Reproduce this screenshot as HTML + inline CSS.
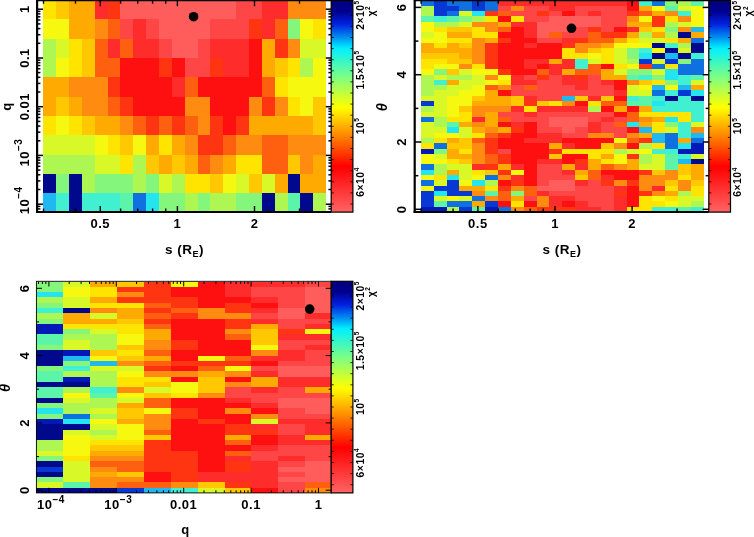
<!DOCTYPE html>
<html><head><meta charset="utf-8"><title>chi2 maps</title>
<style>html,body{margin:0;padding:0;background:#fff}svg{display:block}
text{font-family:"Liberation Sans","DejaVu Sans",sans-serif;font-weight:bold;fill:#000;letter-spacing:0.5px}</style></head>
<body><svg width="754" height="537" viewBox="0 0 754 537">
<defs><linearGradient id="cb" x1="0" y1="0" x2="0" y2="1"><stop offset="0.000" stop-color="#000080"/><stop offset="0.050" stop-color="#00008C"/><stop offset="0.110" stop-color="#0020E0"/><stop offset="0.170" stop-color="#0088F0"/><stop offset="0.225" stop-color="#00F0FF"/><stop offset="0.365" stop-color="#80FF80"/><stop offset="0.505" stop-color="#FFFF00"/><stop offset="0.645" stop-color="#FF8000"/><stop offset="0.785" stop-color="#FF0000"/><stop offset="1.000" stop-color="#FF6464"/></linearGradient></defs>
<rect width="754" height="537" fill="#fff"/>
<g shape-rendering="crispEdges"><rect x="43.20" y="0.10" width="12.86" height="19.30" fill="#FFE400"/>
<rect x="56.06" y="0.10" width="12.86" height="19.30" fill="#FFC800"/>
<rect x="68.92" y="0.10" width="25.72" height="19.30" fill="#FFAA00"/>
<rect x="94.64" y="0.10" width="12.86" height="19.30" fill="#FF2C2C"/>
<rect x="107.50" y="0.10" width="12.86" height="19.30" fill="#FF3410"/>
<rect x="120.36" y="0.10" width="115.74" height="19.30" fill="#FF5C5C"/>
<rect x="236.10" y="0.10" width="25.72" height="19.30" fill="#FF4646"/>
<rect x="261.82" y="0.10" width="25.72" height="19.30" fill="#FF2C2C"/>
<rect x="287.54" y="0.10" width="38.58" height="19.30" fill="#FF8C10"/>
<rect x="43.20" y="19.40" width="25.72" height="19.30" fill="#F6F810"/>
<rect x="68.92" y="19.40" width="25.72" height="19.30" fill="#FFAA00"/>
<rect x="94.64" y="19.40" width="12.86" height="19.30" fill="#FF8C10"/>
<rect x="107.50" y="19.40" width="12.86" height="19.30" fill="#FF6010"/>
<rect x="120.36" y="19.40" width="12.86" height="19.30" fill="#FF4646"/>
<rect x="133.22" y="19.40" width="12.86" height="19.30" fill="#FF2C2C"/>
<rect x="146.08" y="19.40" width="12.86" height="19.30" fill="#FF4646"/>
<rect x="158.94" y="19.40" width="51.44" height="19.30" fill="#FF5C5C"/>
<rect x="210.38" y="19.40" width="38.58" height="19.30" fill="#FF4646"/>
<rect x="248.96" y="19.40" width="12.86" height="19.30" fill="#FF3410"/>
<rect x="261.82" y="19.40" width="12.86" height="19.30" fill="#FF2C2C"/>
<rect x="274.68" y="19.40" width="12.86" height="19.30" fill="#FF6010"/>
<rect x="287.54" y="19.40" width="12.86" height="19.30" fill="#84F67C"/>
<rect x="300.40" y="19.40" width="12.86" height="19.30" fill="#F6F810"/>
<rect x="313.26" y="19.40" width="12.86" height="19.30" fill="#FFE400"/>
<rect x="43.20" y="38.70" width="12.86" height="19.30" fill="#AEF652"/>
<rect x="56.06" y="38.70" width="12.86" height="19.30" fill="#D8F828"/>
<rect x="68.92" y="38.70" width="12.86" height="19.30" fill="#FFE400"/>
<rect x="81.78" y="38.70" width="12.86" height="19.30" fill="#FFC800"/>
<rect x="94.64" y="38.70" width="12.86" height="19.30" fill="#FF6010"/>
<rect x="107.50" y="38.70" width="12.86" height="19.30" fill="#FF2C2C"/>
<rect x="120.36" y="38.70" width="12.86" height="19.30" fill="#FF6010"/>
<rect x="133.22" y="38.70" width="25.72" height="19.30" fill="#FF2C2C"/>
<rect x="158.94" y="38.70" width="12.86" height="19.30" fill="#FF4646"/>
<rect x="171.80" y="38.70" width="25.72" height="19.30" fill="#FF5C5C"/>
<rect x="197.52" y="38.70" width="12.86" height="19.30" fill="#FF4646"/>
<rect x="210.38" y="38.70" width="38.58" height="19.30" fill="#FF2C2C"/>
<rect x="248.96" y="38.70" width="12.86" height="19.30" fill="#FF1010"/>
<rect x="261.82" y="38.70" width="12.86" height="19.30" fill="#FFAA00"/>
<rect x="274.68" y="38.70" width="12.86" height="19.30" fill="#FF3410"/>
<rect x="287.54" y="38.70" width="12.86" height="19.30" fill="#FF8C10"/>
<rect x="300.40" y="38.70" width="25.72" height="19.30" fill="#D8F828"/>
<rect x="43.20" y="58.00" width="12.86" height="19.30" fill="#AEF652"/>
<rect x="56.06" y="58.00" width="12.86" height="19.30" fill="#F6F810"/>
<rect x="68.92" y="58.00" width="12.86" height="19.30" fill="#FFE400"/>
<rect x="81.78" y="58.00" width="12.86" height="19.30" fill="#FFC800"/>
<rect x="94.64" y="58.00" width="25.72" height="19.30" fill="#FF6010"/>
<rect x="120.36" y="58.00" width="38.58" height="19.30" fill="#FF1010"/>
<rect x="158.94" y="58.00" width="12.86" height="19.30" fill="#FF3410"/>
<rect x="171.80" y="58.00" width="12.86" height="19.30" fill="#FF1010"/>
<rect x="184.66" y="58.00" width="25.72" height="19.30" fill="#FF4646"/>
<rect x="210.38" y="58.00" width="12.86" height="19.30" fill="#FF3410"/>
<rect x="223.24" y="58.00" width="25.72" height="19.30" fill="#FF2C2C"/>
<rect x="248.96" y="58.00" width="12.86" height="19.30" fill="#FF1010"/>
<rect x="261.82" y="58.00" width="12.86" height="19.30" fill="#FFAA00"/>
<rect x="274.68" y="58.00" width="12.86" height="19.30" fill="#FFC800"/>
<rect x="287.54" y="58.00" width="12.86" height="19.30" fill="#FFE400"/>
<rect x="300.40" y="58.00" width="12.86" height="19.30" fill="#AEF652"/>
<rect x="313.26" y="58.00" width="12.86" height="19.30" fill="#F6F810"/>
<rect x="43.20" y="77.30" width="25.72" height="19.30" fill="#FFAA00"/>
<rect x="68.92" y="77.30" width="38.58" height="19.30" fill="#FF8C10"/>
<rect x="107.50" y="77.30" width="12.86" height="19.30" fill="#FF3410"/>
<rect x="120.36" y="77.30" width="51.44" height="19.30" fill="#FF1010"/>
<rect x="171.80" y="77.30" width="12.86" height="19.30" fill="#FF2C2C"/>
<rect x="184.66" y="77.30" width="12.86" height="19.30" fill="#FF6010"/>
<rect x="197.52" y="77.30" width="64.30" height="19.30" fill="#FF1010"/>
<rect x="261.82" y="77.30" width="12.86" height="19.30" fill="#FF6010"/>
<rect x="274.68" y="77.30" width="12.86" height="19.30" fill="#FFE400"/>
<rect x="287.54" y="77.30" width="38.58" height="19.30" fill="#F6F810"/>
<rect x="43.20" y="96.60" width="12.86" height="19.30" fill="#FFAA00"/>
<rect x="56.06" y="96.60" width="12.86" height="19.30" fill="#FFC800"/>
<rect x="68.92" y="96.60" width="12.86" height="19.30" fill="#FFAA00"/>
<rect x="81.78" y="96.60" width="25.72" height="19.30" fill="#FF8C10"/>
<rect x="107.50" y="96.60" width="12.86" height="19.30" fill="#FF6010"/>
<rect x="120.36" y="96.60" width="12.86" height="19.30" fill="#FF3410"/>
<rect x="133.22" y="96.60" width="51.44" height="19.30" fill="#FF1010"/>
<rect x="184.66" y="96.60" width="25.72" height="19.30" fill="#FF8C10"/>
<rect x="210.38" y="96.60" width="38.58" height="19.30" fill="#FF1010"/>
<rect x="248.96" y="96.60" width="12.86" height="19.30" fill="#FF8C10"/>
<rect x="261.82" y="96.60" width="12.86" height="19.30" fill="#FF3410"/>
<rect x="274.68" y="96.60" width="12.86" height="19.30" fill="#FF8C10"/>
<rect x="287.54" y="96.60" width="12.86" height="19.30" fill="#FFE400"/>
<rect x="300.40" y="96.60" width="12.86" height="19.30" fill="#F6F810"/>
<rect x="313.26" y="96.60" width="12.86" height="19.30" fill="#FFC800"/>
<rect x="43.20" y="115.90" width="12.86" height="19.30" fill="#FFE400"/>
<rect x="56.06" y="115.90" width="12.86" height="19.30" fill="#F6F810"/>
<rect x="68.92" y="115.90" width="12.86" height="19.30" fill="#FFE400"/>
<rect x="81.78" y="115.90" width="12.86" height="19.30" fill="#FFC800"/>
<rect x="94.64" y="115.90" width="25.72" height="19.30" fill="#FFAA00"/>
<rect x="120.36" y="115.90" width="12.86" height="19.30" fill="#FF8C10"/>
<rect x="133.22" y="115.90" width="12.86" height="19.30" fill="#FF6010"/>
<rect x="146.08" y="115.90" width="12.86" height="19.30" fill="#FF3410"/>
<rect x="158.94" y="115.90" width="12.86" height="19.30" fill="#FF6010"/>
<rect x="171.80" y="115.90" width="12.86" height="19.30" fill="#FF3410"/>
<rect x="184.66" y="115.90" width="12.86" height="19.30" fill="#FF6010"/>
<rect x="197.52" y="115.90" width="12.86" height="19.30" fill="#FF8C10"/>
<rect x="210.38" y="115.90" width="12.86" height="19.30" fill="#FF3410"/>
<rect x="223.24" y="115.90" width="12.86" height="19.30" fill="#FF1010"/>
<rect x="236.10" y="115.90" width="12.86" height="19.30" fill="#FF3410"/>
<rect x="248.96" y="115.90" width="64.30" height="19.30" fill="#FFAA00"/>
<rect x="313.26" y="115.90" width="12.86" height="19.30" fill="#FFC800"/>
<rect x="43.20" y="135.20" width="51.44" height="19.30" fill="#D8F828"/>
<rect x="94.64" y="135.20" width="12.86" height="19.30" fill="#F6F810"/>
<rect x="107.50" y="135.20" width="12.86" height="19.30" fill="#FFE400"/>
<rect x="120.36" y="135.20" width="12.86" height="19.30" fill="#FFC800"/>
<rect x="133.22" y="135.20" width="12.86" height="19.30" fill="#F6F810"/>
<rect x="146.08" y="135.20" width="12.86" height="19.30" fill="#FFAA00"/>
<rect x="158.94" y="135.20" width="12.86" height="19.30" fill="#FFE400"/>
<rect x="171.80" y="135.20" width="12.86" height="19.30" fill="#FFAA00"/>
<rect x="184.66" y="135.20" width="12.86" height="19.30" fill="#FF8C10"/>
<rect x="197.52" y="135.20" width="25.72" height="19.30" fill="#FF3410"/>
<rect x="223.24" y="135.20" width="12.86" height="19.30" fill="#FF6010"/>
<rect x="236.10" y="135.20" width="25.72" height="19.30" fill="#FF8C10"/>
<rect x="261.82" y="135.20" width="25.72" height="19.30" fill="#FF6010"/>
<rect x="287.54" y="135.20" width="38.58" height="19.30" fill="#FF8C10"/>
<rect x="43.20" y="154.50" width="51.44" height="19.30" fill="#AEF652"/>
<rect x="94.64" y="154.50" width="25.72" height="19.30" fill="#D8F828"/>
<rect x="120.36" y="154.50" width="12.86" height="19.30" fill="#FFE400"/>
<rect x="133.22" y="154.50" width="12.86" height="19.30" fill="#AEF652"/>
<rect x="146.08" y="154.50" width="12.86" height="19.30" fill="#FFC800"/>
<rect x="158.94" y="154.50" width="12.86" height="19.30" fill="#FFAA00"/>
<rect x="171.80" y="154.50" width="12.86" height="19.30" fill="#FFC800"/>
<rect x="184.66" y="154.50" width="12.86" height="19.30" fill="#FFAA00"/>
<rect x="197.52" y="154.50" width="12.86" height="19.30" fill="#FF6010"/>
<rect x="210.38" y="154.50" width="12.86" height="19.30" fill="#FF8C10"/>
<rect x="223.24" y="154.50" width="12.86" height="19.30" fill="#FFAA00"/>
<rect x="236.10" y="154.50" width="25.72" height="19.30" fill="#FFE400"/>
<rect x="261.82" y="154.50" width="25.72" height="19.30" fill="#FF6010"/>
<rect x="287.54" y="154.50" width="12.86" height="19.30" fill="#FFC800"/>
<rect x="300.40" y="154.50" width="12.86" height="19.30" fill="#FF8C10"/>
<rect x="313.26" y="154.50" width="12.86" height="19.30" fill="#FFAA00"/>
<rect x="43.20" y="173.80" width="12.86" height="19.30" fill="#00088C"/>
<rect x="56.06" y="173.80" width="12.86" height="19.30" fill="#84F67C"/>
<rect x="68.92" y="173.80" width="12.86" height="19.30" fill="#00088C"/>
<rect x="81.78" y="173.80" width="12.86" height="19.30" fill="#AEF652"/>
<rect x="94.64" y="173.80" width="38.58" height="19.30" fill="#84F67C"/>
<rect x="133.22" y="173.80" width="12.86" height="19.30" fill="#AEF652"/>
<rect x="146.08" y="173.80" width="12.86" height="19.30" fill="#84F67C"/>
<rect x="158.94" y="173.80" width="12.86" height="19.30" fill="#D8F828"/>
<rect x="171.80" y="173.80" width="12.86" height="19.30" fill="#AEF652"/>
<rect x="184.66" y="173.80" width="25.72" height="19.30" fill="#FFE400"/>
<rect x="210.38" y="173.80" width="12.86" height="19.30" fill="#FFC800"/>
<rect x="223.24" y="173.80" width="12.86" height="19.30" fill="#F6F810"/>
<rect x="236.10" y="173.80" width="12.86" height="19.30" fill="#D8F828"/>
<rect x="248.96" y="173.80" width="12.86" height="19.30" fill="#FFC800"/>
<rect x="261.82" y="173.80" width="12.86" height="19.30" fill="#D8F828"/>
<rect x="274.68" y="173.80" width="12.86" height="19.30" fill="#FFAA00"/>
<rect x="287.54" y="173.80" width="12.86" height="19.30" fill="#00088C"/>
<rect x="300.40" y="173.80" width="25.72" height="19.30" fill="#FFAA00"/>
<rect x="43.20" y="193.10" width="12.86" height="19.30" fill="#20B8F0"/>
<rect x="56.06" y="193.10" width="12.86" height="19.30" fill="#40F0D0"/>
<rect x="68.92" y="193.10" width="12.86" height="19.30" fill="#00088C"/>
<rect x="81.78" y="193.10" width="38.58" height="19.30" fill="#40F0D0"/>
<rect x="120.36" y="193.10" width="12.86" height="19.30" fill="#5CF4A8"/>
<rect x="133.22" y="193.10" width="12.86" height="19.30" fill="#1070E0"/>
<rect x="146.08" y="193.10" width="12.86" height="19.30" fill="#24E4F0"/>
<rect x="158.94" y="193.10" width="25.72" height="19.30" fill="#84F67C"/>
<rect x="184.66" y="193.10" width="12.86" height="19.30" fill="#AEF652"/>
<rect x="197.52" y="193.10" width="12.86" height="19.30" fill="#84F67C"/>
<rect x="210.38" y="193.10" width="25.72" height="19.30" fill="#AEF652"/>
<rect x="236.10" y="193.10" width="25.72" height="19.30" fill="#84F67C"/>
<rect x="261.82" y="193.10" width="12.86" height="19.30" fill="#00088C"/>
<rect x="274.68" y="193.10" width="12.86" height="19.30" fill="#AEF652"/>
<rect x="287.54" y="193.10" width="12.86" height="19.30" fill="#5CF4A8"/>
<rect x="300.40" y="193.10" width="12.86" height="19.30" fill="#00088C"/>
<rect x="313.26" y="193.10" width="12.86" height="19.30" fill="#AEF652"/></g>
<line x1="37.1" y1="0.0" x2="37.1" y2="212.9" stroke="#000" stroke-width="2.2"/>
<line x1="36.3" y1="0.6" x2="331.2" y2="0.6" stroke="#000" stroke-width="1.3"/>
<line x1="36.0" y1="211.9" x2="331.2" y2="211.9" stroke="#000" stroke-width="2.0"/>
<line x1="43.5" y1="212.0" x2="43.5" y2="208.5" stroke="#000" stroke-width="1.4"/>
<line x1="43.5" y1="0.5" x2="43.5" y2="3.7" stroke="#000" stroke-width="1.4"/>
<line x1="75.5" y1="212.0" x2="75.5" y2="208.5" stroke="#000" stroke-width="1.4"/>
<line x1="75.5" y1="0.5" x2="75.5" y2="3.7" stroke="#000" stroke-width="1.4"/>
<line x1="100.3" y1="212.0" x2="100.3" y2="206.0" stroke="#000" stroke-width="1.4"/>
<line x1="100.3" y1="0.5" x2="100.3" y2="6.2" stroke="#000" stroke-width="1.4"/>
<line x1="120.6" y1="212.0" x2="120.6" y2="208.5" stroke="#000" stroke-width="1.4"/>
<line x1="120.6" y1="0.5" x2="120.6" y2="3.7" stroke="#000" stroke-width="1.4"/>
<line x1="137.7" y1="212.0" x2="137.7" y2="208.5" stroke="#000" stroke-width="1.4"/>
<line x1="137.7" y1="0.5" x2="137.7" y2="3.7" stroke="#000" stroke-width="1.4"/>
<line x1="152.6" y1="212.0" x2="152.6" y2="208.5" stroke="#000" stroke-width="1.4"/>
<line x1="152.6" y1="0.5" x2="152.6" y2="3.7" stroke="#000" stroke-width="1.4"/>
<line x1="165.7" y1="212.0" x2="165.7" y2="208.5" stroke="#000" stroke-width="1.4"/>
<line x1="165.7" y1="0.5" x2="165.7" y2="3.7" stroke="#000" stroke-width="1.4"/>
<line x1="177.4" y1="212.0" x2="177.4" y2="206.0" stroke="#000" stroke-width="1.4"/>
<line x1="177.4" y1="0.5" x2="177.4" y2="6.2" stroke="#000" stroke-width="1.4"/>
<line x1="254.5" y1="212.0" x2="254.5" y2="206.0" stroke="#000" stroke-width="1.4"/>
<line x1="254.5" y1="0.5" x2="254.5" y2="6.2" stroke="#000" stroke-width="1.4"/>
<line x1="299.5" y1="212.0" x2="299.5" y2="208.5" stroke="#000" stroke-width="1.4"/>
<line x1="299.5" y1="0.5" x2="299.5" y2="3.7" stroke="#000" stroke-width="1.4"/>
<text x="100.3" y="228.0" text-anchor="middle" font-size="13.0" >0.5</text>
<text x="177.4" y="228.0" text-anchor="middle" font-size="13.0" >1</text>
<text x="254.5" y="228.0" text-anchor="middle" font-size="13.0" >2</text>
<text x="184.5" y="253.5" text-anchor="middle" font-size="13.5">s (R<tspan dy="3.5" font-size="9">E</tspan><tspan dy="-3.5">)</tspan></text>
<line x1="37.1" y1="9.2" x2="43.0" y2="9.2" stroke="#000" stroke-width="1.5"/>
<line x1="331.2" y1="9.2" x2="325.8" y2="9.2" stroke="#000" stroke-width="1.5"/>
<line x1="37.1" y1="58.0" x2="43.0" y2="58.0" stroke="#000" stroke-width="1.5"/>
<line x1="331.2" y1="58.0" x2="325.8" y2="58.0" stroke="#000" stroke-width="1.5"/>
<line x1="37.1" y1="43.3" x2="40.4" y2="43.3" stroke="#000" stroke-width="1.5"/>
<line x1="331.2" y1="43.3" x2="328.4" y2="43.3" stroke="#000" stroke-width="1.5"/>
<line x1="37.1" y1="34.7" x2="40.4" y2="34.7" stroke="#000" stroke-width="1.5"/>
<line x1="331.2" y1="34.7" x2="328.4" y2="34.7" stroke="#000" stroke-width="1.5"/>
<line x1="37.1" y1="28.6" x2="40.4" y2="28.6" stroke="#000" stroke-width="1.5"/>
<line x1="331.2" y1="28.6" x2="328.4" y2="28.6" stroke="#000" stroke-width="1.5"/>
<line x1="37.1" y1="23.9" x2="40.4" y2="23.9" stroke="#000" stroke-width="1.5"/>
<line x1="331.2" y1="23.9" x2="328.4" y2="23.9" stroke="#000" stroke-width="1.5"/>
<line x1="37.1" y1="20.0" x2="40.4" y2="20.0" stroke="#000" stroke-width="1.5"/>
<line x1="331.2" y1="20.0" x2="328.4" y2="20.0" stroke="#000" stroke-width="1.5"/>
<line x1="37.1" y1="16.8" x2="40.4" y2="16.8" stroke="#000" stroke-width="1.5"/>
<line x1="331.2" y1="16.8" x2="328.4" y2="16.8" stroke="#000" stroke-width="1.5"/>
<line x1="37.1" y1="13.9" x2="40.4" y2="13.9" stroke="#000" stroke-width="1.5"/>
<line x1="331.2" y1="13.9" x2="328.4" y2="13.9" stroke="#000" stroke-width="1.5"/>
<line x1="37.1" y1="11.4" x2="40.4" y2="11.4" stroke="#000" stroke-width="1.5"/>
<line x1="331.2" y1="11.4" x2="328.4" y2="11.4" stroke="#000" stroke-width="1.5"/>
<line x1="37.1" y1="106.7" x2="43.0" y2="106.7" stroke="#000" stroke-width="1.5"/>
<line x1="331.2" y1="106.7" x2="325.8" y2="106.7" stroke="#000" stroke-width="1.5"/>
<line x1="37.1" y1="92.0" x2="40.4" y2="92.0" stroke="#000" stroke-width="1.5"/>
<line x1="331.2" y1="92.0" x2="328.4" y2="92.0" stroke="#000" stroke-width="1.5"/>
<line x1="37.1" y1="83.4" x2="40.4" y2="83.4" stroke="#000" stroke-width="1.5"/>
<line x1="331.2" y1="83.4" x2="328.4" y2="83.4" stroke="#000" stroke-width="1.5"/>
<line x1="37.1" y1="77.3" x2="40.4" y2="77.3" stroke="#000" stroke-width="1.5"/>
<line x1="331.2" y1="77.3" x2="328.4" y2="77.3" stroke="#000" stroke-width="1.5"/>
<line x1="37.1" y1="72.6" x2="40.4" y2="72.6" stroke="#000" stroke-width="1.5"/>
<line x1="331.2" y1="72.6" x2="328.4" y2="72.6" stroke="#000" stroke-width="1.5"/>
<line x1="37.1" y1="68.8" x2="40.4" y2="68.8" stroke="#000" stroke-width="1.5"/>
<line x1="331.2" y1="68.8" x2="328.4" y2="68.8" stroke="#000" stroke-width="1.5"/>
<line x1="37.1" y1="65.5" x2="40.4" y2="65.5" stroke="#000" stroke-width="1.5"/>
<line x1="331.2" y1="65.5" x2="328.4" y2="65.5" stroke="#000" stroke-width="1.5"/>
<line x1="37.1" y1="62.7" x2="40.4" y2="62.7" stroke="#000" stroke-width="1.5"/>
<line x1="331.2" y1="62.7" x2="328.4" y2="62.7" stroke="#000" stroke-width="1.5"/>
<line x1="37.1" y1="60.2" x2="40.4" y2="60.2" stroke="#000" stroke-width="1.5"/>
<line x1="331.2" y1="60.2" x2="328.4" y2="60.2" stroke="#000" stroke-width="1.5"/>
<line x1="37.1" y1="155.4" x2="43.0" y2="155.4" stroke="#000" stroke-width="1.5"/>
<line x1="331.2" y1="155.4" x2="325.8" y2="155.4" stroke="#000" stroke-width="1.5"/>
<line x1="37.1" y1="140.8" x2="40.4" y2="140.8" stroke="#000" stroke-width="1.5"/>
<line x1="331.2" y1="140.8" x2="328.4" y2="140.8" stroke="#000" stroke-width="1.5"/>
<line x1="37.1" y1="132.2" x2="40.4" y2="132.2" stroke="#000" stroke-width="1.5"/>
<line x1="331.2" y1="132.2" x2="328.4" y2="132.2" stroke="#000" stroke-width="1.5"/>
<line x1="37.1" y1="126.1" x2="40.4" y2="126.1" stroke="#000" stroke-width="1.5"/>
<line x1="331.2" y1="126.1" x2="328.4" y2="126.1" stroke="#000" stroke-width="1.5"/>
<line x1="37.1" y1="121.4" x2="40.4" y2="121.4" stroke="#000" stroke-width="1.5"/>
<line x1="331.2" y1="121.4" x2="328.4" y2="121.4" stroke="#000" stroke-width="1.5"/>
<line x1="37.1" y1="117.5" x2="40.4" y2="117.5" stroke="#000" stroke-width="1.5"/>
<line x1="331.2" y1="117.5" x2="328.4" y2="117.5" stroke="#000" stroke-width="1.5"/>
<line x1="37.1" y1="114.3" x2="40.4" y2="114.3" stroke="#000" stroke-width="1.5"/>
<line x1="331.2" y1="114.3" x2="328.4" y2="114.3" stroke="#000" stroke-width="1.5"/>
<line x1="37.1" y1="111.4" x2="40.4" y2="111.4" stroke="#000" stroke-width="1.5"/>
<line x1="331.2" y1="111.4" x2="328.4" y2="111.4" stroke="#000" stroke-width="1.5"/>
<line x1="37.1" y1="108.9" x2="40.4" y2="108.9" stroke="#000" stroke-width="1.5"/>
<line x1="331.2" y1="108.9" x2="328.4" y2="108.9" stroke="#000" stroke-width="1.5"/>
<line x1="37.1" y1="204.2" x2="43.0" y2="204.2" stroke="#000" stroke-width="1.5"/>
<line x1="331.2" y1="204.2" x2="325.8" y2="204.2" stroke="#000" stroke-width="1.5"/>
<line x1="37.1" y1="189.5" x2="40.4" y2="189.5" stroke="#000" stroke-width="1.5"/>
<line x1="331.2" y1="189.5" x2="328.4" y2="189.5" stroke="#000" stroke-width="1.5"/>
<line x1="37.1" y1="180.9" x2="40.4" y2="180.9" stroke="#000" stroke-width="1.5"/>
<line x1="331.2" y1="180.9" x2="328.4" y2="180.9" stroke="#000" stroke-width="1.5"/>
<line x1="37.1" y1="174.8" x2="40.4" y2="174.8" stroke="#000" stroke-width="1.5"/>
<line x1="331.2" y1="174.8" x2="328.4" y2="174.8" stroke="#000" stroke-width="1.5"/>
<line x1="37.1" y1="170.1" x2="40.4" y2="170.1" stroke="#000" stroke-width="1.5"/>
<line x1="331.2" y1="170.1" x2="328.4" y2="170.1" stroke="#000" stroke-width="1.5"/>
<line x1="37.1" y1="166.3" x2="40.4" y2="166.3" stroke="#000" stroke-width="1.5"/>
<line x1="331.2" y1="166.3" x2="328.4" y2="166.3" stroke="#000" stroke-width="1.5"/>
<line x1="37.1" y1="163.0" x2="40.4" y2="163.0" stroke="#000" stroke-width="1.5"/>
<line x1="331.2" y1="163.0" x2="328.4" y2="163.0" stroke="#000" stroke-width="1.5"/>
<line x1="37.1" y1="160.2" x2="40.4" y2="160.2" stroke="#000" stroke-width="1.5"/>
<line x1="331.2" y1="160.2" x2="328.4" y2="160.2" stroke="#000" stroke-width="1.5"/>
<line x1="37.1" y1="157.7" x2="40.4" y2="157.7" stroke="#000" stroke-width="1.5"/>
<line x1="331.2" y1="157.7" x2="328.4" y2="157.7" stroke="#000" stroke-width="1.5"/>
<line x1="37.1" y1="208.9" x2="40.4" y2="208.9" stroke="#000" stroke-width="1.5"/>
<line x1="331.2" y1="208.9" x2="328.4" y2="208.9" stroke="#000" stroke-width="1.5"/>
<line x1="37.1" y1="206.4" x2="40.4" y2="206.4" stroke="#000" stroke-width="1.5"/>
<line x1="331.2" y1="206.4" x2="328.4" y2="206.4" stroke="#000" stroke-width="1.5"/>
<text transform="translate(28.8,9.2) rotate(-90)" text-anchor="middle" font-size="13.0" >1</text>
<text transform="translate(28.8,58.0) rotate(-90)" text-anchor="middle" font-size="13.0" >0.1</text>
<text transform="translate(28.8,106.7) rotate(-90)" text-anchor="middle" font-size="13.0" >0.01</text>
<text transform="translate(28.8,152.6) rotate(-90)" text-anchor="middle" font-size="13.0" >10<tspan dy="-6.5" font-size="10.0">−3</tspan></text>
<text transform="translate(28.8,200.4) rotate(-90)" text-anchor="middle" font-size="13.0" >10<tspan dy="-6.5" font-size="10.0">−4</tspan></text>
<text transform="translate(11.0,106.5) rotate(-90)" text-anchor="middle" font-size="13.0" >q</text>
<rect x="331.2" y="0.6" width="21.7" height="211.5" fill="url(#cb)" stroke="#000" stroke-width="1.2"/>
<line x1="331.2" y1="4.2" x2="333.8" y2="4.2" stroke="#000" stroke-width="0.8"/>
<line x1="352.9" y1="4.2" x2="350.3" y2="4.2" stroke="#000" stroke-width="0.8"/>
<line x1="331.2" y1="15.3" x2="333.8" y2="15.3" stroke="#000" stroke-width="0.8"/>
<line x1="352.9" y1="15.3" x2="350.3" y2="15.3" stroke="#000" stroke-width="0.8"/>
<line x1="331.2" y1="26.4" x2="333.8" y2="26.4" stroke="#000" stroke-width="0.8"/>
<line x1="352.9" y1="26.4" x2="350.3" y2="26.4" stroke="#000" stroke-width="0.8"/>
<line x1="331.2" y1="37.5" x2="333.8" y2="37.5" stroke="#000" stroke-width="0.8"/>
<line x1="352.9" y1="37.5" x2="350.3" y2="37.5" stroke="#000" stroke-width="0.8"/>
<line x1="331.2" y1="48.6" x2="333.8" y2="48.6" stroke="#000" stroke-width="0.8"/>
<line x1="352.9" y1="48.6" x2="350.3" y2="48.6" stroke="#000" stroke-width="0.8"/>
<line x1="331.2" y1="59.7" x2="333.8" y2="59.7" stroke="#000" stroke-width="0.8"/>
<line x1="352.9" y1="59.7" x2="350.3" y2="59.7" stroke="#000" stroke-width="0.8"/>
<line x1="331.2" y1="70.8" x2="333.8" y2="70.8" stroke="#000" stroke-width="0.8"/>
<line x1="352.9" y1="70.8" x2="350.3" y2="70.8" stroke="#000" stroke-width="0.8"/>
<line x1="331.2" y1="81.9" x2="333.8" y2="81.9" stroke="#000" stroke-width="0.8"/>
<line x1="352.9" y1="81.9" x2="350.3" y2="81.9" stroke="#000" stroke-width="0.8"/>
<line x1="331.2" y1="93.0" x2="333.8" y2="93.0" stroke="#000" stroke-width="0.8"/>
<line x1="352.9" y1="93.0" x2="350.3" y2="93.0" stroke="#000" stroke-width="0.8"/>
<line x1="331.2" y1="104.1" x2="333.8" y2="104.1" stroke="#000" stroke-width="0.8"/>
<line x1="352.9" y1="104.1" x2="350.3" y2="104.1" stroke="#000" stroke-width="0.8"/>
<line x1="331.2" y1="115.2" x2="333.8" y2="115.2" stroke="#000" stroke-width="0.8"/>
<line x1="352.9" y1="115.2" x2="350.3" y2="115.2" stroke="#000" stroke-width="0.8"/>
<line x1="331.2" y1="126.3" x2="333.8" y2="126.3" stroke="#000" stroke-width="0.8"/>
<line x1="352.9" y1="126.3" x2="350.3" y2="126.3" stroke="#000" stroke-width="0.8"/>
<line x1="331.2" y1="137.4" x2="333.8" y2="137.4" stroke="#000" stroke-width="0.8"/>
<line x1="352.9" y1="137.4" x2="350.3" y2="137.4" stroke="#000" stroke-width="0.8"/>
<line x1="331.2" y1="148.5" x2="333.8" y2="148.5" stroke="#000" stroke-width="0.8"/>
<line x1="352.9" y1="148.5" x2="350.3" y2="148.5" stroke="#000" stroke-width="0.8"/>
<line x1="331.2" y1="159.6" x2="333.8" y2="159.6" stroke="#000" stroke-width="0.8"/>
<line x1="352.9" y1="159.6" x2="350.3" y2="159.6" stroke="#000" stroke-width="0.8"/>
<line x1="331.2" y1="170.7" x2="333.8" y2="170.7" stroke="#000" stroke-width="0.8"/>
<line x1="352.9" y1="170.7" x2="350.3" y2="170.7" stroke="#000" stroke-width="0.8"/>
<line x1="331.2" y1="181.8" x2="333.8" y2="181.8" stroke="#000" stroke-width="0.8"/>
<line x1="352.9" y1="181.8" x2="350.3" y2="181.8" stroke="#000" stroke-width="0.8"/>
<line x1="331.2" y1="192.9" x2="333.8" y2="192.9" stroke="#000" stroke-width="0.8"/>
<line x1="352.9" y1="192.9" x2="350.3" y2="192.9" stroke="#000" stroke-width="0.8"/>
<line x1="331.2" y1="204.0" x2="333.8" y2="204.0" stroke="#000" stroke-width="0.8"/>
<line x1="352.9" y1="204.0" x2="350.3" y2="204.0" stroke="#000" stroke-width="0.8"/>
<text transform="translate(363.5,15.1) rotate(-90)" text-anchor="middle" font-size="10.4" >2×10<tspan dy="-4.5" font-size="6.5">5</tspan></text>
<text transform="translate(363.5,70.0) rotate(-90)" text-anchor="middle" font-size="10.4" >1.5×10<tspan dy="-4.5" font-size="6.5">5</tspan></text>
<text transform="translate(363.5,126.0) rotate(-90)" text-anchor="middle" font-size="10.4" >10<tspan dy="-4.5" font-size="6.5">5</tspan></text>
<text transform="translate(363.5,182.0) rotate(-90)" text-anchor="middle" font-size="10.4" >6×10<tspan dy="-4.5" font-size="6.5">4</tspan></text>
<text transform="translate(374.7,11.1) rotate(-90)" text-anchor="middle" font-size="10.0" >χ<tspan dy="-4.5" font-size="6.5">2</tspan></text>
<circle cx="193.6" cy="16.7" r="4.8" fill="#000"/>
<g shape-rendering="crispEdges"><rect x="420.80" y="0.60" width="12.86" height="5.29" fill="#1070E0"/>
<rect x="433.66" y="0.60" width="12.86" height="5.29" fill="#0838D4"/>
<rect x="446.52" y="0.60" width="25.72" height="5.29" fill="#1070E0"/>
<rect x="472.24" y="0.60" width="12.86" height="5.29" fill="#0838D4"/>
<rect x="485.10" y="0.60" width="12.86" height="5.29" fill="#1070E0"/>
<rect x="497.96" y="0.60" width="128.60" height="5.29" fill="#FF2C2C"/>
<rect x="626.56" y="0.60" width="12.86" height="5.29" fill="#FF1010"/>
<rect x="639.42" y="0.60" width="12.86" height="5.29" fill="#40F0D0"/>
<rect x="652.28" y="0.60" width="12.86" height="5.29" fill="#1070E0"/>
<rect x="665.14" y="0.60" width="12.86" height="5.29" fill="#84F67C"/>
<rect x="678.00" y="0.60" width="12.86" height="5.29" fill="#AEF652"/>
<rect x="690.86" y="0.60" width="12.86" height="5.29" fill="#5CF4A8"/>
<rect x="420.80" y="5.89" width="12.86" height="5.29" fill="#AEF652"/>
<rect x="433.66" y="5.89" width="25.72" height="5.29" fill="#0838D4"/>
<rect x="459.38" y="5.89" width="12.86" height="5.29" fill="#1070E0"/>
<rect x="472.24" y="5.89" width="12.86" height="5.29" fill="#0838D4"/>
<rect x="485.10" y="5.89" width="12.86" height="5.29" fill="#1070E0"/>
<rect x="497.96" y="5.89" width="12.86" height="5.29" fill="#FF4646"/>
<rect x="510.82" y="5.89" width="12.86" height="5.29" fill="#FF8C10"/>
<rect x="523.68" y="5.89" width="25.72" height="5.29" fill="#FF4646"/>
<rect x="549.40" y="5.89" width="25.72" height="5.29" fill="#FF2C2C"/>
<rect x="575.12" y="5.89" width="51.44" height="5.29" fill="#FF4646"/>
<rect x="626.56" y="5.89" width="12.86" height="5.29" fill="#FF1010"/>
<rect x="639.42" y="5.89" width="12.86" height="5.29" fill="#FFAA00"/>
<rect x="652.28" y="5.89" width="12.86" height="5.29" fill="#F6F810"/>
<rect x="665.14" y="5.89" width="12.86" height="5.29" fill="#5CF4A8"/>
<rect x="678.00" y="5.89" width="12.86" height="5.29" fill="#D8F828"/>
<rect x="690.86" y="5.89" width="12.86" height="5.29" fill="#F6F810"/>
<rect x="420.80" y="11.17" width="12.86" height="5.29" fill="#AEF652"/>
<rect x="433.66" y="11.17" width="12.86" height="5.29" fill="#0838D4"/>
<rect x="446.52" y="11.17" width="12.86" height="5.29" fill="#1070E0"/>
<rect x="459.38" y="11.17" width="12.86" height="5.29" fill="#D8F828"/>
<rect x="472.24" y="11.17" width="12.86" height="5.29" fill="#24E4F0"/>
<rect x="485.10" y="11.17" width="12.86" height="5.29" fill="#FF3410"/>
<rect x="497.96" y="11.17" width="12.86" height="5.29" fill="#FF6010"/>
<rect x="510.82" y="11.17" width="25.72" height="5.29" fill="#FF4646"/>
<rect x="536.54" y="11.17" width="12.86" height="5.29" fill="#FF3410"/>
<rect x="549.40" y="11.17" width="12.86" height="5.29" fill="#FF4646"/>
<rect x="562.26" y="11.17" width="12.86" height="5.29" fill="#FF1010"/>
<rect x="575.12" y="11.17" width="12.86" height="5.29" fill="#FF4646"/>
<rect x="587.98" y="11.17" width="12.86" height="5.29" fill="#FF2C2C"/>
<rect x="600.84" y="11.17" width="25.72" height="5.29" fill="#FF4646"/>
<rect x="626.56" y="11.17" width="12.86" height="5.29" fill="#FF3410"/>
<rect x="639.42" y="11.17" width="12.86" height="5.29" fill="#FF6010"/>
<rect x="652.28" y="11.17" width="12.86" height="5.29" fill="#FFAA00"/>
<rect x="665.14" y="11.17" width="12.86" height="5.29" fill="#FF8C10"/>
<rect x="678.00" y="11.17" width="12.86" height="5.29" fill="#40F0D0"/>
<rect x="690.86" y="11.17" width="12.86" height="5.29" fill="#F6F810"/>
<rect x="420.80" y="16.46" width="12.86" height="5.29" fill="#5CF4A8"/>
<rect x="433.66" y="16.46" width="12.86" height="5.29" fill="#40F0D0"/>
<rect x="446.52" y="16.46" width="12.86" height="5.29" fill="#5CF4A8"/>
<rect x="459.38" y="16.46" width="12.86" height="5.29" fill="#84F67C"/>
<rect x="472.24" y="16.46" width="12.86" height="5.29" fill="#AEF652"/>
<rect x="485.10" y="16.46" width="12.86" height="5.29" fill="#FFE400"/>
<rect x="497.96" y="16.46" width="12.86" height="5.29" fill="#FF1010"/>
<rect x="510.82" y="16.46" width="12.86" height="5.29" fill="#FFE400"/>
<rect x="523.68" y="16.46" width="25.72" height="5.29" fill="#FF4646"/>
<rect x="549.40" y="16.46" width="51.44" height="5.29" fill="#FF5C5C"/>
<rect x="600.84" y="16.46" width="25.72" height="5.29" fill="#FF4646"/>
<rect x="626.56" y="16.46" width="12.86" height="5.29" fill="#FF8C10"/>
<rect x="639.42" y="16.46" width="12.86" height="5.29" fill="#F6F810"/>
<rect x="652.28" y="16.46" width="12.86" height="5.29" fill="#FF3410"/>
<rect x="665.14" y="16.46" width="12.86" height="5.29" fill="#FFE400"/>
<rect x="678.00" y="16.46" width="12.86" height="5.29" fill="#FF8C10"/>
<rect x="690.86" y="16.46" width="12.86" height="5.29" fill="#F6F810"/>
<rect x="420.80" y="21.74" width="12.86" height="5.29" fill="#F6F810"/>
<rect x="433.66" y="21.74" width="25.72" height="5.29" fill="#AEF652"/>
<rect x="459.38" y="21.74" width="12.86" height="5.29" fill="#D8F828"/>
<rect x="472.24" y="21.74" width="25.72" height="5.29" fill="#FF8C10"/>
<rect x="497.96" y="21.74" width="12.86" height="5.29" fill="#FFAA00"/>
<rect x="510.82" y="21.74" width="25.72" height="5.29" fill="#FF2C2C"/>
<rect x="536.54" y="21.74" width="64.30" height="5.29" fill="#FF5C5C"/>
<rect x="600.84" y="21.74" width="25.72" height="5.29" fill="#FF4646"/>
<rect x="626.56" y="21.74" width="25.72" height="5.29" fill="#FFAA00"/>
<rect x="652.28" y="21.74" width="12.86" height="5.29" fill="#FF3410"/>
<rect x="665.14" y="21.74" width="12.86" height="5.29" fill="#AEF652"/>
<rect x="678.00" y="21.74" width="12.86" height="5.29" fill="#D8F828"/>
<rect x="690.86" y="21.74" width="12.86" height="5.29" fill="#F6F810"/>
<rect x="420.80" y="27.03" width="12.86" height="5.29" fill="#F6F810"/>
<rect x="433.66" y="27.03" width="12.86" height="5.29" fill="#FFE400"/>
<rect x="446.52" y="27.03" width="25.72" height="5.29" fill="#FFC800"/>
<rect x="472.24" y="27.03" width="12.86" height="5.29" fill="#FFE400"/>
<rect x="485.10" y="27.03" width="12.86" height="5.29" fill="#FF8C10"/>
<rect x="497.96" y="27.03" width="12.86" height="5.29" fill="#FF6010"/>
<rect x="510.82" y="27.03" width="12.86" height="5.29" fill="#FF1010"/>
<rect x="523.68" y="27.03" width="12.86" height="5.29" fill="#FF2C2C"/>
<rect x="536.54" y="27.03" width="38.58" height="5.29" fill="#FF5C5C"/>
<rect x="575.12" y="27.03" width="12.86" height="5.29" fill="#FF4646"/>
<rect x="587.98" y="27.03" width="12.86" height="5.29" fill="#FF3410"/>
<rect x="600.84" y="27.03" width="12.86" height="5.29" fill="#FF4646"/>
<rect x="613.70" y="27.03" width="12.86" height="5.29" fill="#FF1010"/>
<rect x="626.56" y="27.03" width="12.86" height="5.29" fill="#FF2C2C"/>
<rect x="639.42" y="27.03" width="12.86" height="5.29" fill="#FFC800"/>
<rect x="652.28" y="27.03" width="12.86" height="5.29" fill="#FFE400"/>
<rect x="665.14" y="27.03" width="12.86" height="5.29" fill="#84F67C"/>
<rect x="678.00" y="27.03" width="12.86" height="5.29" fill="#FF8C10"/>
<rect x="690.86" y="27.03" width="12.86" height="5.29" fill="#20B8F0"/>
<rect x="420.80" y="32.32" width="12.86" height="5.29" fill="#D8F828"/>
<rect x="433.66" y="32.32" width="12.86" height="5.29" fill="#F6F810"/>
<rect x="446.52" y="32.32" width="25.72" height="5.29" fill="#FFAA00"/>
<rect x="472.24" y="32.32" width="25.72" height="5.29" fill="#FFE400"/>
<rect x="497.96" y="32.32" width="25.72" height="5.29" fill="#FF1010"/>
<rect x="523.68" y="32.32" width="12.86" height="5.29" fill="#FF2C2C"/>
<rect x="536.54" y="32.32" width="12.86" height="5.29" fill="#FF5C5C"/>
<rect x="549.40" y="32.32" width="12.86" height="5.29" fill="#FF6010"/>
<rect x="562.26" y="32.32" width="25.72" height="5.29" fill="#FF4646"/>
<rect x="587.98" y="32.32" width="12.86" height="5.29" fill="#FF6010"/>
<rect x="600.84" y="32.32" width="25.72" height="5.29" fill="#FF3410"/>
<rect x="626.56" y="32.32" width="12.86" height="5.29" fill="#FFAA00"/>
<rect x="639.42" y="32.32" width="12.86" height="5.29" fill="#AEF652"/>
<rect x="652.28" y="32.32" width="12.86" height="5.29" fill="#FFAA00"/>
<rect x="665.14" y="32.32" width="12.86" height="5.29" fill="#AEF652"/>
<rect x="678.00" y="32.32" width="12.86" height="5.29" fill="#00088C"/>
<rect x="690.86" y="32.32" width="12.86" height="5.29" fill="#FFAA00"/>
<rect x="420.80" y="37.60" width="25.72" height="5.29" fill="#F6F810"/>
<rect x="446.52" y="37.60" width="25.72" height="5.29" fill="#FFE400"/>
<rect x="472.24" y="37.60" width="12.86" height="5.29" fill="#FF8C10"/>
<rect x="485.10" y="37.60" width="12.86" height="5.29" fill="#FFAA00"/>
<rect x="497.96" y="37.60" width="12.86" height="5.29" fill="#FF3410"/>
<rect x="510.82" y="37.60" width="25.72" height="5.29" fill="#FF1010"/>
<rect x="536.54" y="37.60" width="25.72" height="5.29" fill="#FF4646"/>
<rect x="562.26" y="37.60" width="12.86" height="5.29" fill="#FF2C2C"/>
<rect x="575.12" y="37.60" width="12.86" height="5.29" fill="#FF3410"/>
<rect x="587.98" y="37.60" width="25.72" height="5.29" fill="#FF6010"/>
<rect x="613.70" y="37.60" width="12.86" height="5.29" fill="#FFAA00"/>
<rect x="626.56" y="37.60" width="12.86" height="5.29" fill="#FFE400"/>
<rect x="639.42" y="37.60" width="25.72" height="5.29" fill="#D8F828"/>
<rect x="665.14" y="37.60" width="12.86" height="5.29" fill="#FFE400"/>
<rect x="678.00" y="37.60" width="12.86" height="5.29" fill="#FFAA00"/>
<rect x="690.86" y="37.60" width="12.86" height="5.29" fill="#1070E0"/>
<rect x="420.80" y="42.89" width="12.86" height="5.29" fill="#FFAA00"/>
<rect x="433.66" y="42.89" width="12.86" height="5.29" fill="#FFE400"/>
<rect x="446.52" y="42.89" width="12.86" height="5.29" fill="#FFAA00"/>
<rect x="459.38" y="42.89" width="12.86" height="5.29" fill="#FFC800"/>
<rect x="472.24" y="42.89" width="12.86" height="5.29" fill="#FF8C10"/>
<rect x="485.10" y="42.89" width="12.86" height="5.29" fill="#FF3410"/>
<rect x="497.96" y="42.89" width="25.72" height="5.29" fill="#FF1010"/>
<rect x="523.68" y="42.89" width="12.86" height="5.29" fill="#FF2C2C"/>
<rect x="536.54" y="42.89" width="25.72" height="5.29" fill="#FF1010"/>
<rect x="562.26" y="42.89" width="12.86" height="5.29" fill="#FF3410"/>
<rect x="575.12" y="42.89" width="25.72" height="5.29" fill="#FF8C10"/>
<rect x="600.84" y="42.89" width="12.86" height="5.29" fill="#FFAA00"/>
<rect x="613.70" y="42.89" width="38.58" height="5.29" fill="#F6F810"/>
<rect x="652.28" y="42.89" width="12.86" height="5.29" fill="#00088C"/>
<rect x="665.14" y="42.89" width="12.86" height="5.29" fill="#40F0D0"/>
<rect x="678.00" y="42.89" width="12.86" height="5.29" fill="#AEF652"/>
<rect x="690.86" y="42.89" width="12.86" height="5.29" fill="#00088C"/>
<rect x="420.80" y="48.17" width="51.44" height="5.29" fill="#FFAA00"/>
<rect x="472.24" y="48.17" width="12.86" height="5.29" fill="#FF8C10"/>
<rect x="485.10" y="48.17" width="12.86" height="5.29" fill="#FF3410"/>
<rect x="497.96" y="48.17" width="64.30" height="5.29" fill="#FF1010"/>
<rect x="562.26" y="48.17" width="12.86" height="5.29" fill="#FFE400"/>
<rect x="575.12" y="48.17" width="12.86" height="5.29" fill="#FF8C10"/>
<rect x="587.98" y="48.17" width="12.86" height="5.29" fill="#FFC800"/>
<rect x="600.84" y="48.17" width="12.86" height="5.29" fill="#FFE400"/>
<rect x="613.70" y="48.17" width="12.86" height="5.29" fill="#D8F828"/>
<rect x="626.56" y="48.17" width="12.86" height="5.29" fill="#84F67C"/>
<rect x="639.42" y="48.17" width="12.86" height="5.29" fill="#40F0D0"/>
<rect x="652.28" y="48.17" width="12.86" height="5.29" fill="#F6F810"/>
<rect x="665.14" y="48.17" width="12.86" height="5.29" fill="#00088C"/>
<rect x="678.00" y="48.17" width="12.86" height="5.29" fill="#D8F828"/>
<rect x="690.86" y="48.17" width="12.86" height="5.29" fill="#00088C"/>
<rect x="420.80" y="53.46" width="38.58" height="5.29" fill="#FFC800"/>
<rect x="459.38" y="53.46" width="12.86" height="5.29" fill="#FFAA00"/>
<rect x="472.24" y="53.46" width="12.86" height="5.29" fill="#FF8C10"/>
<rect x="485.10" y="53.46" width="12.86" height="5.29" fill="#FF3410"/>
<rect x="497.96" y="53.46" width="64.30" height="5.29" fill="#FF1010"/>
<rect x="562.26" y="53.46" width="25.72" height="5.29" fill="#FFE400"/>
<rect x="587.98" y="53.46" width="12.86" height="5.29" fill="#F6F810"/>
<rect x="600.84" y="53.46" width="12.86" height="5.29" fill="#FFE400"/>
<rect x="613.70" y="53.46" width="12.86" height="5.29" fill="#D8F828"/>
<rect x="626.56" y="53.46" width="12.86" height="5.29" fill="#84F67C"/>
<rect x="639.42" y="53.46" width="12.86" height="5.29" fill="#24E4F0"/>
<rect x="652.28" y="53.46" width="12.86" height="5.29" fill="#00088C"/>
<rect x="665.14" y="53.46" width="12.86" height="5.29" fill="#20B8F0"/>
<rect x="678.00" y="53.46" width="12.86" height="5.29" fill="#00088C"/>
<rect x="690.86" y="53.46" width="12.86" height="5.29" fill="#40F0D0"/>
<rect x="420.80" y="58.75" width="25.72" height="5.29" fill="#FFE400"/>
<rect x="446.52" y="58.75" width="25.72" height="5.29" fill="#FFC800"/>
<rect x="472.24" y="58.75" width="12.86" height="5.29" fill="#FF8C10"/>
<rect x="485.10" y="58.75" width="12.86" height="5.29" fill="#FF3410"/>
<rect x="497.96" y="58.75" width="25.72" height="5.29" fill="#FF1010"/>
<rect x="523.68" y="58.75" width="25.72" height="5.29" fill="#FF2C2C"/>
<rect x="549.40" y="58.75" width="12.86" height="5.29" fill="#FFAA00"/>
<rect x="562.26" y="58.75" width="12.86" height="5.29" fill="#FF2C2C"/>
<rect x="575.12" y="58.75" width="12.86" height="5.29" fill="#40F0D0"/>
<rect x="587.98" y="58.75" width="12.86" height="5.29" fill="#D8F828"/>
<rect x="600.84" y="58.75" width="12.86" height="5.29" fill="#FFE400"/>
<rect x="613.70" y="58.75" width="12.86" height="5.29" fill="#D8F828"/>
<rect x="626.56" y="58.75" width="12.86" height="5.29" fill="#AEF652"/>
<rect x="639.42" y="58.75" width="12.86" height="5.29" fill="#0838D4"/>
<rect x="652.28" y="58.75" width="12.86" height="5.29" fill="#D8F828"/>
<rect x="665.14" y="58.75" width="12.86" height="5.29" fill="#0838D4"/>
<rect x="678.00" y="58.75" width="12.86" height="5.29" fill="#84F67C"/>
<rect x="690.86" y="58.75" width="12.86" height="5.29" fill="#1070E0"/>
<rect x="420.80" y="64.03" width="12.86" height="5.29" fill="#FFE400"/>
<rect x="433.66" y="64.03" width="25.72" height="5.29" fill="#F6F810"/>
<rect x="459.38" y="64.03" width="12.86" height="5.29" fill="#FF8C10"/>
<rect x="472.24" y="64.03" width="12.86" height="5.29" fill="#FFE400"/>
<rect x="485.10" y="64.03" width="12.86" height="5.29" fill="#FF3410"/>
<rect x="497.96" y="64.03" width="25.72" height="5.29" fill="#FF1010"/>
<rect x="523.68" y="64.03" width="12.86" height="5.29" fill="#FF2C2C"/>
<rect x="536.54" y="64.03" width="12.86" height="5.29" fill="#FF1010"/>
<rect x="549.40" y="64.03" width="25.72" height="5.29" fill="#FF2C2C"/>
<rect x="575.12" y="64.03" width="12.86" height="5.29" fill="#40F0D0"/>
<rect x="587.98" y="64.03" width="12.86" height="5.29" fill="#FF6010"/>
<rect x="600.84" y="64.03" width="12.86" height="5.29" fill="#FF1010"/>
<rect x="613.70" y="64.03" width="12.86" height="5.29" fill="#FFE400"/>
<rect x="626.56" y="64.03" width="12.86" height="5.29" fill="#F6F810"/>
<rect x="639.42" y="64.03" width="12.86" height="5.29" fill="#FF3410"/>
<rect x="652.28" y="64.03" width="12.86" height="5.29" fill="#1070E0"/>
<rect x="665.14" y="64.03" width="12.86" height="5.29" fill="#FFE400"/>
<rect x="678.00" y="64.03" width="25.72" height="5.29" fill="#1070E0"/>
<rect x="420.80" y="69.32" width="12.86" height="5.29" fill="#F6F810"/>
<rect x="433.66" y="69.32" width="12.86" height="5.29" fill="#84F67C"/>
<rect x="446.52" y="69.32" width="12.86" height="5.29" fill="#FFC800"/>
<rect x="459.38" y="69.32" width="12.86" height="5.29" fill="#D8F828"/>
<rect x="472.24" y="69.32" width="25.72" height="5.29" fill="#F6F810"/>
<rect x="497.96" y="69.32" width="12.86" height="5.29" fill="#FF3410"/>
<rect x="510.82" y="69.32" width="25.72" height="5.29" fill="#FF1010"/>
<rect x="536.54" y="69.32" width="12.86" height="5.29" fill="#FF6010"/>
<rect x="549.40" y="69.32" width="12.86" height="5.29" fill="#FF2C2C"/>
<rect x="562.26" y="69.32" width="12.86" height="5.29" fill="#FFAA00"/>
<rect x="575.12" y="69.32" width="25.72" height="5.29" fill="#FF6010"/>
<rect x="600.84" y="69.32" width="12.86" height="5.29" fill="#FFAA00"/>
<rect x="613.70" y="69.32" width="12.86" height="5.29" fill="#D8F828"/>
<rect x="626.56" y="69.32" width="25.72" height="5.29" fill="#84F67C"/>
<rect x="652.28" y="69.32" width="12.86" height="5.29" fill="#D8F828"/>
<rect x="665.14" y="69.32" width="12.86" height="5.29" fill="#24E4F0"/>
<rect x="678.00" y="69.32" width="25.72" height="5.29" fill="#1070E0"/>
<rect x="420.80" y="74.60" width="12.86" height="5.29" fill="#AEF652"/>
<rect x="433.66" y="74.60" width="12.86" height="5.29" fill="#D8F828"/>
<rect x="446.52" y="74.60" width="25.72" height="5.29" fill="#AEF652"/>
<rect x="472.24" y="74.60" width="12.86" height="5.29" fill="#D8F828"/>
<rect x="485.10" y="74.60" width="12.86" height="5.29" fill="#FF8C10"/>
<rect x="497.96" y="74.60" width="12.86" height="5.29" fill="#F6F810"/>
<rect x="510.82" y="74.60" width="12.86" height="5.29" fill="#FF2C2C"/>
<rect x="523.68" y="74.60" width="12.86" height="5.29" fill="#FF4646"/>
<rect x="536.54" y="74.60" width="12.86" height="5.29" fill="#FF3410"/>
<rect x="549.40" y="74.60" width="12.86" height="5.29" fill="#FF4646"/>
<rect x="562.26" y="74.60" width="12.86" height="5.29" fill="#FF2C2C"/>
<rect x="575.12" y="74.60" width="12.86" height="5.29" fill="#FF3410"/>
<rect x="587.98" y="74.60" width="12.86" height="5.29" fill="#FF4646"/>
<rect x="600.84" y="74.60" width="25.72" height="5.29" fill="#FFAA00"/>
<rect x="626.56" y="74.60" width="12.86" height="5.29" fill="#5CF4A8"/>
<rect x="639.42" y="74.60" width="12.86" height="5.29" fill="#40F0D0"/>
<rect x="652.28" y="74.60" width="12.86" height="5.29" fill="#84F67C"/>
<rect x="665.14" y="74.60" width="12.86" height="5.29" fill="#24E4F0"/>
<rect x="678.00" y="74.60" width="12.86" height="5.29" fill="#40F0D0"/>
<rect x="690.86" y="74.60" width="12.86" height="5.29" fill="#5CF4A8"/>
<rect x="420.80" y="79.89" width="12.86" height="5.29" fill="#AEF652"/>
<rect x="433.66" y="79.89" width="12.86" height="5.29" fill="#40F0D0"/>
<rect x="446.52" y="79.89" width="12.86" height="5.29" fill="#FFAA00"/>
<rect x="459.38" y="79.89" width="25.72" height="5.29" fill="#D8F828"/>
<rect x="485.10" y="79.89" width="12.86" height="5.29" fill="#F6F810"/>
<rect x="497.96" y="79.89" width="12.86" height="5.29" fill="#FFE400"/>
<rect x="510.82" y="79.89" width="25.72" height="5.29" fill="#FF2C2C"/>
<rect x="536.54" y="79.89" width="25.72" height="5.29" fill="#FF4646"/>
<rect x="562.26" y="79.89" width="25.72" height="5.29" fill="#FF2C2C"/>
<rect x="587.98" y="79.89" width="12.86" height="5.29" fill="#FF4646"/>
<rect x="600.84" y="79.89" width="12.86" height="5.29" fill="#FF2C2C"/>
<rect x="613.70" y="79.89" width="12.86" height="5.29" fill="#FF1010"/>
<rect x="626.56" y="79.89" width="12.86" height="5.29" fill="#FF8C10"/>
<rect x="639.42" y="79.89" width="12.86" height="5.29" fill="#FFC800"/>
<rect x="652.28" y="79.89" width="12.86" height="5.29" fill="#FFE400"/>
<rect x="665.14" y="79.89" width="12.86" height="5.29" fill="#84F67C"/>
<rect x="678.00" y="79.89" width="12.86" height="5.29" fill="#40F0D0"/>
<rect x="690.86" y="79.89" width="12.86" height="5.29" fill="#D8F828"/>
<rect x="420.80" y="85.18" width="25.72" height="5.29" fill="#AEF652"/>
<rect x="446.52" y="85.18" width="25.72" height="5.29" fill="#D8F828"/>
<rect x="472.24" y="85.18" width="12.86" height="5.29" fill="#F6F810"/>
<rect x="485.10" y="85.18" width="12.86" height="5.29" fill="#FF6010"/>
<rect x="497.96" y="85.18" width="12.86" height="5.29" fill="#FF8C10"/>
<rect x="510.82" y="85.18" width="12.86" height="5.29" fill="#FF4646"/>
<rect x="523.68" y="85.18" width="12.86" height="5.29" fill="#FF6010"/>
<rect x="536.54" y="85.18" width="38.58" height="5.29" fill="#FF4646"/>
<rect x="575.12" y="85.18" width="12.86" height="5.29" fill="#FF2C2C"/>
<rect x="587.98" y="85.18" width="25.72" height="5.29" fill="#FF4646"/>
<rect x="613.70" y="85.18" width="12.86" height="5.29" fill="#FF1010"/>
<rect x="626.56" y="85.18" width="12.86" height="5.29" fill="#D8F828"/>
<rect x="639.42" y="85.18" width="12.86" height="5.29" fill="#F6F810"/>
<rect x="652.28" y="85.18" width="12.86" height="5.29" fill="#20B8F0"/>
<rect x="665.14" y="85.18" width="12.86" height="5.29" fill="#F6F810"/>
<rect x="678.00" y="85.18" width="12.86" height="5.29" fill="#20B8F0"/>
<rect x="690.86" y="85.18" width="12.86" height="5.29" fill="#FFAA00"/>
<rect x="420.80" y="90.46" width="12.86" height="5.29" fill="#AEF652"/>
<rect x="433.66" y="90.46" width="25.72" height="5.29" fill="#D8F828"/>
<rect x="459.38" y="90.46" width="25.72" height="5.29" fill="#F6F810"/>
<rect x="485.10" y="90.46" width="12.86" height="5.29" fill="#FFAA00"/>
<rect x="497.96" y="90.46" width="12.86" height="5.29" fill="#FF1010"/>
<rect x="510.82" y="90.46" width="102.88" height="5.29" fill="#FF4646"/>
<rect x="613.70" y="90.46" width="12.86" height="5.29" fill="#FF2C2C"/>
<rect x="626.56" y="90.46" width="25.72" height="5.29" fill="#D8F828"/>
<rect x="652.28" y="90.46" width="12.86" height="5.29" fill="#1070E0"/>
<rect x="665.14" y="90.46" width="12.86" height="5.29" fill="#40F0D0"/>
<rect x="678.00" y="90.46" width="12.86" height="5.29" fill="#0838D4"/>
<rect x="690.86" y="90.46" width="12.86" height="5.29" fill="#24E4F0"/>
<rect x="420.80" y="95.75" width="25.72" height="5.29" fill="#D8F828"/>
<rect x="446.52" y="95.75" width="25.72" height="5.29" fill="#F6F810"/>
<rect x="472.24" y="95.75" width="12.86" height="5.29" fill="#FFC800"/>
<rect x="485.10" y="95.75" width="25.72" height="5.29" fill="#FFAA00"/>
<rect x="510.82" y="95.75" width="12.86" height="5.29" fill="#FFC800"/>
<rect x="523.68" y="95.75" width="12.86" height="5.29" fill="#FF2C2C"/>
<rect x="536.54" y="95.75" width="25.72" height="5.29" fill="#FF4646"/>
<rect x="562.26" y="95.75" width="12.86" height="5.29" fill="#20B8F0"/>
<rect x="575.12" y="95.75" width="12.86" height="5.29" fill="#FFC800"/>
<rect x="587.98" y="95.75" width="12.86" height="5.29" fill="#FF2C2C"/>
<rect x="600.84" y="95.75" width="12.86" height="5.29" fill="#FFC800"/>
<rect x="613.70" y="95.75" width="12.86" height="5.29" fill="#FF1010"/>
<rect x="626.56" y="95.75" width="12.86" height="5.29" fill="#40F0D0"/>
<rect x="639.42" y="95.75" width="12.86" height="5.29" fill="#5CF4A8"/>
<rect x="652.28" y="95.75" width="12.86" height="5.29" fill="#40F0D0"/>
<rect x="665.14" y="95.75" width="12.86" height="5.29" fill="#00088C"/>
<rect x="678.00" y="95.75" width="12.86" height="5.29" fill="#40F0D0"/>
<rect x="690.86" y="95.75" width="12.86" height="5.29" fill="#00088C"/>
<rect x="420.80" y="101.03" width="12.86" height="5.29" fill="#0838D4"/>
<rect x="433.66" y="101.03" width="12.86" height="5.29" fill="#D8F828"/>
<rect x="446.52" y="101.03" width="25.72" height="5.29" fill="#F6F810"/>
<rect x="472.24" y="101.03" width="38.58" height="5.29" fill="#FFAA00"/>
<rect x="510.82" y="101.03" width="12.86" height="5.29" fill="#FFC800"/>
<rect x="523.68" y="101.03" width="12.86" height="5.29" fill="#FF3410"/>
<rect x="536.54" y="101.03" width="12.86" height="5.29" fill="#FFC800"/>
<rect x="549.40" y="101.03" width="12.86" height="5.29" fill="#FFE400"/>
<rect x="562.26" y="101.03" width="12.86" height="5.29" fill="#FF8C10"/>
<rect x="575.12" y="101.03" width="12.86" height="5.29" fill="#FF1010"/>
<rect x="587.98" y="101.03" width="12.86" height="5.29" fill="#FFE400"/>
<rect x="600.84" y="101.03" width="25.72" height="5.29" fill="#FF6010"/>
<rect x="626.56" y="101.03" width="25.72" height="5.29" fill="#5CF4A8"/>
<rect x="652.28" y="101.03" width="12.86" height="5.29" fill="#24E4F0"/>
<rect x="665.14" y="101.03" width="38.58" height="5.29" fill="#40F0D0"/>
<rect x="420.80" y="106.32" width="12.86" height="5.29" fill="#AEF652"/>
<rect x="433.66" y="106.32" width="12.86" height="5.29" fill="#D8F828"/>
<rect x="446.52" y="106.32" width="12.86" height="5.29" fill="#F6F810"/>
<rect x="459.38" y="106.32" width="12.86" height="5.29" fill="#FFC800"/>
<rect x="472.24" y="106.32" width="38.58" height="5.29" fill="#FF8C10"/>
<rect x="510.82" y="106.32" width="12.86" height="5.29" fill="#FF2C2C"/>
<rect x="523.68" y="106.32" width="12.86" height="5.29" fill="#FFE400"/>
<rect x="536.54" y="106.32" width="51.44" height="5.29" fill="#FF2C2C"/>
<rect x="587.98" y="106.32" width="12.86" height="5.29" fill="#AEF652"/>
<rect x="600.84" y="106.32" width="12.86" height="5.29" fill="#FF1010"/>
<rect x="613.70" y="106.32" width="12.86" height="5.29" fill="#FFAA00"/>
<rect x="626.56" y="106.32" width="12.86" height="5.29" fill="#FF1010"/>
<rect x="639.42" y="106.32" width="12.86" height="5.29" fill="#FFAA00"/>
<rect x="652.28" y="106.32" width="51.44" height="5.29" fill="#40F0D0"/>
<rect x="420.80" y="111.61" width="25.72" height="5.29" fill="#D8F828"/>
<rect x="446.52" y="111.61" width="12.86" height="5.29" fill="#F6F810"/>
<rect x="459.38" y="111.61" width="12.86" height="5.29" fill="#FFE400"/>
<rect x="472.24" y="111.61" width="12.86" height="5.29" fill="#FF8C10"/>
<rect x="485.10" y="111.61" width="12.86" height="5.29" fill="#FFAA00"/>
<rect x="497.96" y="111.61" width="25.72" height="5.29" fill="#FF4646"/>
<rect x="523.68" y="111.61" width="12.86" height="5.29" fill="#FF2C2C"/>
<rect x="536.54" y="111.61" width="77.16" height="5.29" fill="#FF4646"/>
<rect x="613.70" y="111.61" width="12.86" height="5.29" fill="#FF1010"/>
<rect x="626.56" y="111.61" width="12.86" height="5.29" fill="#FF6010"/>
<rect x="639.42" y="111.61" width="51.44" height="5.29" fill="#FFE400"/>
<rect x="690.86" y="111.61" width="12.86" height="5.29" fill="#40F0D0"/>
<rect x="420.80" y="116.89" width="12.86" height="5.29" fill="#1070E0"/>
<rect x="433.66" y="116.89" width="12.86" height="5.29" fill="#AEF652"/>
<rect x="446.52" y="116.89" width="25.72" height="5.29" fill="#FFE400"/>
<rect x="472.24" y="116.89" width="12.86" height="5.29" fill="#FF2C2C"/>
<rect x="485.10" y="116.89" width="12.86" height="5.29" fill="#FFAA00"/>
<rect x="497.96" y="116.89" width="12.86" height="5.29" fill="#FF6010"/>
<rect x="510.82" y="116.89" width="38.58" height="5.29" fill="#FF4646"/>
<rect x="549.40" y="116.89" width="38.58" height="5.29" fill="#FF5C5C"/>
<rect x="587.98" y="116.89" width="12.86" height="5.29" fill="#FF4646"/>
<rect x="600.84" y="116.89" width="12.86" height="5.29" fill="#FF2C2C"/>
<rect x="613.70" y="116.89" width="12.86" height="5.29" fill="#FF4646"/>
<rect x="626.56" y="116.89" width="12.86" height="5.29" fill="#FF6010"/>
<rect x="639.42" y="116.89" width="12.86" height="5.29" fill="#FF8C10"/>
<rect x="652.28" y="116.89" width="12.86" height="5.29" fill="#FFAA00"/>
<rect x="665.14" y="116.89" width="12.86" height="5.29" fill="#24E4F0"/>
<rect x="678.00" y="116.89" width="12.86" height="5.29" fill="#FFE400"/>
<rect x="690.86" y="116.89" width="12.86" height="5.29" fill="#40F0D0"/>
<rect x="420.80" y="122.18" width="12.86" height="5.29" fill="#D8F828"/>
<rect x="433.66" y="122.18" width="12.86" height="5.29" fill="#AEF652"/>
<rect x="446.52" y="122.18" width="12.86" height="5.29" fill="#5CF4A8"/>
<rect x="459.38" y="122.18" width="12.86" height="5.29" fill="#FFAA00"/>
<rect x="472.24" y="122.18" width="12.86" height="5.29" fill="#FF8C10"/>
<rect x="485.10" y="122.18" width="12.86" height="5.29" fill="#FFAA00"/>
<rect x="497.96" y="122.18" width="12.86" height="5.29" fill="#FF1010"/>
<rect x="510.82" y="122.18" width="12.86" height="5.29" fill="#FF2C2C"/>
<rect x="523.68" y="122.18" width="12.86" height="5.29" fill="#FF1010"/>
<rect x="536.54" y="122.18" width="12.86" height="5.29" fill="#FF4646"/>
<rect x="549.40" y="122.18" width="38.58" height="5.29" fill="#FF5C5C"/>
<rect x="587.98" y="122.18" width="12.86" height="5.29" fill="#FF2C2C"/>
<rect x="600.84" y="122.18" width="12.86" height="5.29" fill="#FF4646"/>
<rect x="613.70" y="122.18" width="12.86" height="5.29" fill="#FF6010"/>
<rect x="626.56" y="122.18" width="12.86" height="5.29" fill="#24E4F0"/>
<rect x="639.42" y="122.18" width="12.86" height="5.29" fill="#FFAA00"/>
<rect x="652.28" y="122.18" width="12.86" height="5.29" fill="#FFE400"/>
<rect x="665.14" y="122.18" width="12.86" height="5.29" fill="#84F67C"/>
<rect x="678.00" y="122.18" width="12.86" height="5.29" fill="#40F0D0"/>
<rect x="690.86" y="122.18" width="12.86" height="5.29" fill="#D8F828"/>
<rect x="420.80" y="127.46" width="25.72" height="5.29" fill="#D8F828"/>
<rect x="446.52" y="127.46" width="12.86" height="5.29" fill="#24E4F0"/>
<rect x="459.38" y="127.46" width="12.86" height="5.29" fill="#D8F828"/>
<rect x="472.24" y="127.46" width="12.86" height="5.29" fill="#FFAA00"/>
<rect x="485.10" y="127.46" width="12.86" height="5.29" fill="#FF8C10"/>
<rect x="497.96" y="127.46" width="12.86" height="5.29" fill="#FFAA00"/>
<rect x="510.82" y="127.46" width="12.86" height="5.29" fill="#FF3410"/>
<rect x="523.68" y="127.46" width="12.86" height="5.29" fill="#FF1010"/>
<rect x="536.54" y="127.46" width="25.72" height="5.29" fill="#FF4646"/>
<rect x="562.26" y="127.46" width="12.86" height="5.29" fill="#FF5C5C"/>
<rect x="575.12" y="127.46" width="12.86" height="5.29" fill="#FF4646"/>
<rect x="587.98" y="127.46" width="12.86" height="5.29" fill="#FF2C2C"/>
<rect x="600.84" y="127.46" width="25.72" height="5.29" fill="#FF4646"/>
<rect x="626.56" y="127.46" width="12.86" height="5.29" fill="#FF1010"/>
<rect x="639.42" y="127.46" width="12.86" height="5.29" fill="#20B8F0"/>
<rect x="652.28" y="127.46" width="12.86" height="5.29" fill="#FFE400"/>
<rect x="665.14" y="127.46" width="12.86" height="5.29" fill="#D8F828"/>
<rect x="678.00" y="127.46" width="12.86" height="5.29" fill="#40F0D0"/>
<rect x="690.86" y="127.46" width="12.86" height="5.29" fill="#FF8C10"/>
<rect x="420.80" y="132.75" width="12.86" height="5.29" fill="#D8F828"/>
<rect x="433.66" y="132.75" width="25.72" height="5.29" fill="#F6F810"/>
<rect x="459.38" y="132.75" width="12.86" height="5.29" fill="#D8F828"/>
<rect x="472.24" y="132.75" width="12.86" height="5.29" fill="#FFE400"/>
<rect x="485.10" y="132.75" width="12.86" height="5.29" fill="#FF6010"/>
<rect x="497.96" y="132.75" width="12.86" height="5.29" fill="#FF3410"/>
<rect x="510.82" y="132.75" width="25.72" height="5.29" fill="#FF1010"/>
<rect x="536.54" y="132.75" width="25.72" height="5.29" fill="#FF2C2C"/>
<rect x="562.26" y="132.75" width="25.72" height="5.29" fill="#FF4646"/>
<rect x="587.98" y="132.75" width="25.72" height="5.29" fill="#FF8C10"/>
<rect x="613.70" y="132.75" width="12.86" height="5.29" fill="#FF4646"/>
<rect x="626.56" y="132.75" width="12.86" height="5.29" fill="#FF8C10"/>
<rect x="639.42" y="132.75" width="12.86" height="5.29" fill="#FFAA00"/>
<rect x="652.28" y="132.75" width="12.86" height="5.29" fill="#20B8F0"/>
<rect x="665.14" y="132.75" width="12.86" height="5.29" fill="#1070E0"/>
<rect x="678.00" y="132.75" width="12.86" height="5.29" fill="#40F0D0"/>
<rect x="690.86" y="132.75" width="12.86" height="5.29" fill="#20B8F0"/>
<rect x="420.80" y="138.04" width="12.86" height="5.29" fill="#AEF652"/>
<rect x="433.66" y="138.04" width="12.86" height="5.29" fill="#FFE400"/>
<rect x="446.52" y="138.04" width="12.86" height="5.29" fill="#FFAA00"/>
<rect x="459.38" y="138.04" width="12.86" height="5.29" fill="#FFC800"/>
<rect x="472.24" y="138.04" width="12.86" height="5.29" fill="#FF6010"/>
<rect x="485.10" y="138.04" width="12.86" height="5.29" fill="#FF3410"/>
<rect x="497.96" y="138.04" width="25.72" height="5.29" fill="#FF1010"/>
<rect x="523.68" y="138.04" width="38.58" height="5.29" fill="#FF2C2C"/>
<rect x="562.26" y="138.04" width="51.44" height="5.29" fill="#FF1010"/>
<rect x="613.70" y="138.04" width="12.86" height="5.29" fill="#F6F810"/>
<rect x="626.56" y="138.04" width="12.86" height="5.29" fill="#FF6010"/>
<rect x="639.42" y="138.04" width="12.86" height="5.29" fill="#FF3410"/>
<rect x="652.28" y="138.04" width="12.86" height="5.29" fill="#20B8F0"/>
<rect x="665.14" y="138.04" width="12.86" height="5.29" fill="#1070E0"/>
<rect x="678.00" y="138.04" width="12.86" height="5.29" fill="#FFAA00"/>
<rect x="690.86" y="138.04" width="12.86" height="5.29" fill="#1070E0"/>
<rect x="420.80" y="143.32" width="12.86" height="5.29" fill="#FFE400"/>
<rect x="433.66" y="143.32" width="12.86" height="5.29" fill="#1070E0"/>
<rect x="446.52" y="143.32" width="25.72" height="5.29" fill="#FFC800"/>
<rect x="472.24" y="143.32" width="12.86" height="5.29" fill="#FF8C10"/>
<rect x="485.10" y="143.32" width="12.86" height="5.29" fill="#FF3410"/>
<rect x="497.96" y="143.32" width="51.44" height="5.29" fill="#FF1010"/>
<rect x="549.40" y="143.32" width="12.86" height="5.29" fill="#FFAA00"/>
<rect x="562.26" y="143.32" width="12.86" height="5.29" fill="#FF2C2C"/>
<rect x="575.12" y="143.32" width="25.72" height="5.29" fill="#FF1010"/>
<rect x="600.84" y="143.32" width="12.86" height="5.29" fill="#FFC800"/>
<rect x="613.70" y="143.32" width="12.86" height="5.29" fill="#FF8C10"/>
<rect x="626.56" y="143.32" width="12.86" height="5.29" fill="#FF1010"/>
<rect x="639.42" y="143.32" width="12.86" height="5.29" fill="#AEF652"/>
<rect x="652.28" y="143.32" width="12.86" height="5.29" fill="#FFE400"/>
<rect x="665.14" y="143.32" width="12.86" height="5.29" fill="#1070E0"/>
<rect x="678.00" y="143.32" width="12.86" height="5.29" fill="#24E4F0"/>
<rect x="690.86" y="143.32" width="12.86" height="5.29" fill="#0418B8"/>
<rect x="420.80" y="148.61" width="12.86" height="5.29" fill="#0418B8"/>
<rect x="433.66" y="148.61" width="12.86" height="5.29" fill="#84F67C"/>
<rect x="446.52" y="148.61" width="12.86" height="5.29" fill="#FFAA00"/>
<rect x="459.38" y="148.61" width="12.86" height="5.29" fill="#FFE400"/>
<rect x="472.24" y="148.61" width="12.86" height="5.29" fill="#FF8C10"/>
<rect x="485.10" y="148.61" width="12.86" height="5.29" fill="#FF3410"/>
<rect x="497.96" y="148.61" width="12.86" height="5.29" fill="#FF4646"/>
<rect x="510.82" y="148.61" width="38.58" height="5.29" fill="#FF1010"/>
<rect x="549.40" y="148.61" width="12.86" height="5.29" fill="#FF3410"/>
<rect x="562.26" y="148.61" width="51.44" height="5.29" fill="#FFE400"/>
<rect x="613.70" y="148.61" width="12.86" height="5.29" fill="#AEF652"/>
<rect x="626.56" y="148.61" width="12.86" height="5.29" fill="#D8F828"/>
<rect x="639.42" y="148.61" width="12.86" height="5.29" fill="#F6F810"/>
<rect x="652.28" y="148.61" width="25.72" height="5.29" fill="#40F0D0"/>
<rect x="678.00" y="148.61" width="25.72" height="5.29" fill="#0418B8"/>
<rect x="420.80" y="153.89" width="12.86" height="5.29" fill="#F6F810"/>
<rect x="433.66" y="153.89" width="12.86" height="5.29" fill="#D8F828"/>
<rect x="446.52" y="153.89" width="25.72" height="5.29" fill="#FFAA00"/>
<rect x="472.24" y="153.89" width="12.86" height="5.29" fill="#FF8C10"/>
<rect x="485.10" y="153.89" width="12.86" height="5.29" fill="#FF6010"/>
<rect x="497.96" y="153.89" width="12.86" height="5.29" fill="#FF3410"/>
<rect x="510.82" y="153.89" width="38.58" height="5.29" fill="#FF1010"/>
<rect x="549.40" y="153.89" width="12.86" height="5.29" fill="#FFC800"/>
<rect x="562.26" y="153.89" width="25.72" height="5.29" fill="#FF1010"/>
<rect x="587.98" y="153.89" width="12.86" height="5.29" fill="#FFE400"/>
<rect x="600.84" y="153.89" width="12.86" height="5.29" fill="#FFAA00"/>
<rect x="613.70" y="153.89" width="12.86" height="5.29" fill="#F6F810"/>
<rect x="626.56" y="153.89" width="12.86" height="5.29" fill="#FF3410"/>
<rect x="639.42" y="153.89" width="12.86" height="5.29" fill="#AEF652"/>
<rect x="652.28" y="153.89" width="12.86" height="5.29" fill="#D8F828"/>
<rect x="665.14" y="153.89" width="12.86" height="5.29" fill="#5CF4A8"/>
<rect x="678.00" y="153.89" width="12.86" height="5.29" fill="#40F0D0"/>
<rect x="690.86" y="153.89" width="12.86" height="5.29" fill="#D8F828"/>
<rect x="420.80" y="159.18" width="25.72" height="5.29" fill="#F6F810"/>
<rect x="446.52" y="159.18" width="12.86" height="5.29" fill="#FFE400"/>
<rect x="459.38" y="159.18" width="12.86" height="5.29" fill="#FFC800"/>
<rect x="472.24" y="159.18" width="12.86" height="5.29" fill="#FF8C10"/>
<rect x="485.10" y="159.18" width="12.86" height="5.29" fill="#FF6010"/>
<rect x="497.96" y="159.18" width="12.86" height="5.29" fill="#FF3410"/>
<rect x="510.82" y="159.18" width="25.72" height="5.29" fill="#FF1010"/>
<rect x="536.54" y="159.18" width="25.72" height="5.29" fill="#FF2C2C"/>
<rect x="562.26" y="159.18" width="12.86" height="5.29" fill="#FF1010"/>
<rect x="575.12" y="159.18" width="12.86" height="5.29" fill="#FF3410"/>
<rect x="587.98" y="159.18" width="12.86" height="5.29" fill="#FFAA00"/>
<rect x="600.84" y="159.18" width="12.86" height="5.29" fill="#FFE400"/>
<rect x="613.70" y="159.18" width="12.86" height="5.29" fill="#F6F810"/>
<rect x="626.56" y="159.18" width="12.86" height="5.29" fill="#FFAA00"/>
<rect x="639.42" y="159.18" width="12.86" height="5.29" fill="#AEF652"/>
<rect x="652.28" y="159.18" width="12.86" height="5.29" fill="#D8F828"/>
<rect x="665.14" y="159.18" width="12.86" height="5.29" fill="#5CF4A8"/>
<rect x="678.00" y="159.18" width="12.86" height="5.29" fill="#20B8F0"/>
<rect x="690.86" y="159.18" width="12.86" height="5.29" fill="#00088C"/>
<rect x="420.80" y="164.47" width="12.86" height="5.29" fill="#1070E0"/>
<rect x="433.66" y="164.47" width="12.86" height="5.29" fill="#AEF652"/>
<rect x="446.52" y="164.47" width="25.72" height="5.29" fill="#D8F828"/>
<rect x="472.24" y="164.47" width="12.86" height="5.29" fill="#FF2C2C"/>
<rect x="485.10" y="164.47" width="12.86" height="5.29" fill="#FF3410"/>
<rect x="497.96" y="164.47" width="12.86" height="5.29" fill="#FFAA00"/>
<rect x="510.82" y="164.47" width="12.86" height="5.29" fill="#FF2C2C"/>
<rect x="523.68" y="164.47" width="12.86" height="5.29" fill="#FF1010"/>
<rect x="536.54" y="164.47" width="25.72" height="5.29" fill="#FF4646"/>
<rect x="562.26" y="164.47" width="12.86" height="5.29" fill="#FFAA00"/>
<rect x="575.12" y="164.47" width="12.86" height="5.29" fill="#FF2C2C"/>
<rect x="587.98" y="164.47" width="12.86" height="5.29" fill="#FFAA00"/>
<rect x="600.84" y="164.47" width="12.86" height="5.29" fill="#FF6010"/>
<rect x="613.70" y="164.47" width="12.86" height="5.29" fill="#FF8C10"/>
<rect x="626.56" y="164.47" width="12.86" height="5.29" fill="#FFAA00"/>
<rect x="639.42" y="164.47" width="25.72" height="5.29" fill="#D8F828"/>
<rect x="665.14" y="164.47" width="12.86" height="5.29" fill="#5CF4A8"/>
<rect x="678.00" y="164.47" width="12.86" height="5.29" fill="#FFC800"/>
<rect x="690.86" y="164.47" width="12.86" height="5.29" fill="#FFAA00"/>
<rect x="420.80" y="169.75" width="12.86" height="5.29" fill="#24E4F0"/>
<rect x="433.66" y="169.75" width="12.86" height="5.29" fill="#AEF652"/>
<rect x="446.52" y="169.75" width="12.86" height="5.29" fill="#FFAA00"/>
<rect x="459.38" y="169.75" width="12.86" height="5.29" fill="#D8F828"/>
<rect x="472.24" y="169.75" width="12.86" height="5.29" fill="#FFE400"/>
<rect x="485.10" y="169.75" width="12.86" height="5.29" fill="#FFC800"/>
<rect x="497.96" y="169.75" width="12.86" height="5.29" fill="#FF3410"/>
<rect x="510.82" y="169.75" width="12.86" height="5.29" fill="#F6F810"/>
<rect x="523.68" y="169.75" width="12.86" height="5.29" fill="#FF1010"/>
<rect x="536.54" y="169.75" width="25.72" height="5.29" fill="#FF4646"/>
<rect x="562.26" y="169.75" width="12.86" height="5.29" fill="#FF2C2C"/>
<rect x="575.12" y="169.75" width="12.86" height="5.29" fill="#FFAA00"/>
<rect x="587.98" y="169.75" width="12.86" height="5.29" fill="#FF6010"/>
<rect x="600.84" y="169.75" width="38.58" height="5.29" fill="#FF1010"/>
<rect x="639.42" y="169.75" width="12.86" height="5.29" fill="#FF3410"/>
<rect x="652.28" y="169.75" width="12.86" height="5.29" fill="#FFC800"/>
<rect x="665.14" y="169.75" width="12.86" height="5.29" fill="#FF8C10"/>
<rect x="678.00" y="169.75" width="12.86" height="5.29" fill="#FFC800"/>
<rect x="690.86" y="169.75" width="12.86" height="5.29" fill="#FFAA00"/>
<rect x="420.80" y="175.04" width="12.86" height="5.29" fill="#F6F810"/>
<rect x="433.66" y="175.04" width="12.86" height="5.29" fill="#FFE400"/>
<rect x="446.52" y="175.04" width="12.86" height="5.29" fill="#24E4F0"/>
<rect x="459.38" y="175.04" width="12.86" height="5.29" fill="#D8F828"/>
<rect x="472.24" y="175.04" width="12.86" height="5.29" fill="#F6F810"/>
<rect x="485.10" y="175.04" width="12.86" height="5.29" fill="#1070E0"/>
<rect x="497.96" y="175.04" width="12.86" height="5.29" fill="#FF8C10"/>
<rect x="510.82" y="175.04" width="12.86" height="5.29" fill="#FF2C2C"/>
<rect x="523.68" y="175.04" width="12.86" height="5.29" fill="#FF1010"/>
<rect x="536.54" y="175.04" width="38.58" height="5.29" fill="#FF4646"/>
<rect x="575.12" y="175.04" width="12.86" height="5.29" fill="#FFC800"/>
<rect x="587.98" y="175.04" width="12.86" height="5.29" fill="#FF6010"/>
<rect x="600.84" y="175.04" width="12.86" height="5.29" fill="#FF2C2C"/>
<rect x="613.70" y="175.04" width="25.72" height="5.29" fill="#FF1010"/>
<rect x="639.42" y="175.04" width="38.58" height="5.29" fill="#FF8C10"/>
<rect x="678.00" y="175.04" width="12.86" height="5.29" fill="#FFE400"/>
<rect x="690.86" y="175.04" width="12.86" height="5.29" fill="#FFAA00"/>
<rect x="420.80" y="180.32" width="12.86" height="5.29" fill="#1070E0"/>
<rect x="433.66" y="180.32" width="12.86" height="5.29" fill="#D8F828"/>
<rect x="446.52" y="180.32" width="12.86" height="5.29" fill="#0838D4"/>
<rect x="459.38" y="180.32" width="12.86" height="5.29" fill="#F6F810"/>
<rect x="472.24" y="180.32" width="12.86" height="5.29" fill="#24E4F0"/>
<rect x="485.10" y="180.32" width="12.86" height="5.29" fill="#AEF652"/>
<rect x="497.96" y="180.32" width="12.86" height="5.29" fill="#FF1010"/>
<rect x="510.82" y="180.32" width="12.86" height="5.29" fill="#FF3410"/>
<rect x="523.68" y="180.32" width="12.86" height="5.29" fill="#FF1010"/>
<rect x="536.54" y="180.32" width="12.86" height="5.29" fill="#FF4646"/>
<rect x="549.40" y="180.32" width="25.72" height="5.29" fill="#FF5C5C"/>
<rect x="575.12" y="180.32" width="12.86" height="5.29" fill="#FF2C2C"/>
<rect x="587.98" y="180.32" width="12.86" height="5.29" fill="#FF4646"/>
<rect x="600.84" y="180.32" width="12.86" height="5.29" fill="#FF3410"/>
<rect x="613.70" y="180.32" width="12.86" height="5.29" fill="#FF8C10"/>
<rect x="626.56" y="180.32" width="12.86" height="5.29" fill="#FF3410"/>
<rect x="639.42" y="180.32" width="25.72" height="5.29" fill="#FF8C10"/>
<rect x="665.14" y="180.32" width="12.86" height="5.29" fill="#FFC800"/>
<rect x="678.00" y="180.32" width="12.86" height="5.29" fill="#FF8C10"/>
<rect x="690.86" y="180.32" width="12.86" height="5.29" fill="#FFC800"/>
<rect x="420.80" y="185.61" width="12.86" height="5.29" fill="#F6F810"/>
<rect x="433.66" y="185.61" width="25.72" height="5.29" fill="#0838D4"/>
<rect x="459.38" y="185.61" width="25.72" height="5.29" fill="#FFAA00"/>
<rect x="485.10" y="185.61" width="12.86" height="5.29" fill="#FFE400"/>
<rect x="497.96" y="185.61" width="12.86" height="5.29" fill="#FF3410"/>
<rect x="510.82" y="185.61" width="12.86" height="5.29" fill="#FF8C10"/>
<rect x="523.68" y="185.61" width="12.86" height="5.29" fill="#FF6010"/>
<rect x="536.54" y="185.61" width="38.58" height="5.29" fill="#FF5C5C"/>
<rect x="575.12" y="185.61" width="38.58" height="5.29" fill="#FF4646"/>
<rect x="613.70" y="185.61" width="12.86" height="5.29" fill="#FF2C2C"/>
<rect x="626.56" y="185.61" width="12.86" height="5.29" fill="#FF1010"/>
<rect x="639.42" y="185.61" width="12.86" height="5.29" fill="#FF8C10"/>
<rect x="652.28" y="185.61" width="12.86" height="5.29" fill="#FF2C2C"/>
<rect x="665.14" y="185.61" width="12.86" height="5.29" fill="#FFE400"/>
<rect x="678.00" y="185.61" width="12.86" height="5.29" fill="#FF8C10"/>
<rect x="690.86" y="185.61" width="12.86" height="5.29" fill="#FFE400"/>
<rect x="420.80" y="190.90" width="12.86" height="5.29" fill="#0838D4"/>
<rect x="433.66" y="190.90" width="12.86" height="5.29" fill="#24E4F0"/>
<rect x="446.52" y="190.90" width="25.72" height="5.29" fill="#0838D4"/>
<rect x="472.24" y="190.90" width="12.86" height="5.29" fill="#FF8C10"/>
<rect x="485.10" y="190.90" width="12.86" height="5.29" fill="#5CF4A8"/>
<rect x="497.96" y="190.90" width="12.86" height="5.29" fill="#FF6010"/>
<rect x="510.82" y="190.90" width="12.86" height="5.29" fill="#84F67C"/>
<rect x="523.68" y="190.90" width="12.86" height="5.29" fill="#FF6010"/>
<rect x="536.54" y="190.90" width="12.86" height="5.29" fill="#FF2C2C"/>
<rect x="549.40" y="190.90" width="64.30" height="5.29" fill="#FF4646"/>
<rect x="613.70" y="190.90" width="12.86" height="5.29" fill="#FF3410"/>
<rect x="626.56" y="190.90" width="12.86" height="5.29" fill="#FF1010"/>
<rect x="639.42" y="190.90" width="12.86" height="5.29" fill="#FF3410"/>
<rect x="652.28" y="190.90" width="12.86" height="5.29" fill="#FF8C10"/>
<rect x="665.14" y="190.90" width="12.86" height="5.29" fill="#FFAA00"/>
<rect x="678.00" y="190.90" width="12.86" height="5.29" fill="#AEF652"/>
<rect x="690.86" y="190.90" width="12.86" height="5.29" fill="#FFE400"/>
<rect x="420.80" y="196.18" width="12.86" height="5.29" fill="#0838D4"/>
<rect x="433.66" y="196.18" width="12.86" height="5.29" fill="#D8F828"/>
<rect x="446.52" y="196.18" width="12.86" height="5.29" fill="#F6F810"/>
<rect x="459.38" y="196.18" width="12.86" height="5.29" fill="#D8F828"/>
<rect x="472.24" y="196.18" width="12.86" height="5.29" fill="#1070E0"/>
<rect x="485.10" y="196.18" width="12.86" height="5.29" fill="#FF8C10"/>
<rect x="497.96" y="196.18" width="12.86" height="5.29" fill="#FF6010"/>
<rect x="510.82" y="196.18" width="12.86" height="5.29" fill="#FFAA00"/>
<rect x="523.68" y="196.18" width="12.86" height="5.29" fill="#FF4646"/>
<rect x="536.54" y="196.18" width="12.86" height="5.29" fill="#FF8C10"/>
<rect x="549.40" y="196.18" width="25.72" height="5.29" fill="#FF2C2C"/>
<rect x="575.12" y="196.18" width="38.58" height="5.29" fill="#FF4646"/>
<rect x="613.70" y="196.18" width="12.86" height="5.29" fill="#FF2C2C"/>
<rect x="626.56" y="196.18" width="12.86" height="5.29" fill="#FF1010"/>
<rect x="639.42" y="196.18" width="12.86" height="5.29" fill="#FFE400"/>
<rect x="652.28" y="196.18" width="12.86" height="5.29" fill="#F6F810"/>
<rect x="665.14" y="196.18" width="12.86" height="5.29" fill="#FFE400"/>
<rect x="678.00" y="196.18" width="25.72" height="5.29" fill="#D8F828"/>
<rect x="420.80" y="201.47" width="12.86" height="5.29" fill="#0838D4"/>
<rect x="433.66" y="201.47" width="12.86" height="5.29" fill="#5CF4A8"/>
<rect x="446.52" y="201.47" width="25.72" height="5.29" fill="#1070E0"/>
<rect x="472.24" y="201.47" width="12.86" height="5.29" fill="#FFAA00"/>
<rect x="485.10" y="201.47" width="12.86" height="5.29" fill="#0838D4"/>
<rect x="497.96" y="201.47" width="12.86" height="5.29" fill="#FF1010"/>
<rect x="510.82" y="201.47" width="12.86" height="5.29" fill="#FFE400"/>
<rect x="523.68" y="201.47" width="12.86" height="5.29" fill="#FF1010"/>
<rect x="536.54" y="201.47" width="12.86" height="5.29" fill="#FF8C10"/>
<rect x="549.40" y="201.47" width="12.86" height="5.29" fill="#FF2C2C"/>
<rect x="562.26" y="201.47" width="12.86" height="5.29" fill="#FF1010"/>
<rect x="575.12" y="201.47" width="12.86" height="5.29" fill="#FF2C2C"/>
<rect x="587.98" y="201.47" width="25.72" height="5.29" fill="#FF4646"/>
<rect x="613.70" y="201.47" width="12.86" height="5.29" fill="#FF2C2C"/>
<rect x="626.56" y="201.47" width="12.86" height="5.29" fill="#FF1010"/>
<rect x="639.42" y="201.47" width="25.72" height="5.29" fill="#FFE400"/>
<rect x="665.14" y="201.47" width="12.86" height="5.29" fill="#F6F810"/>
<rect x="678.00" y="201.47" width="12.86" height="5.29" fill="#D8F828"/>
<rect x="690.86" y="201.47" width="12.86" height="5.29" fill="#AEF652"/>
<rect x="420.80" y="206.75" width="25.72" height="5.29" fill="#0418B8"/>
<rect x="446.52" y="206.75" width="12.86" height="5.29" fill="#AEF652"/>
<rect x="459.38" y="206.75" width="12.86" height="5.29" fill="#0838D4"/>
<rect x="472.24" y="206.75" width="12.86" height="5.29" fill="#5CF4A8"/>
<rect x="485.10" y="206.75" width="12.86" height="5.29" fill="#0418B8"/>
<rect x="497.96" y="206.75" width="12.86" height="5.29" fill="#1070E0"/>
<rect x="510.82" y="206.75" width="12.86" height="5.29" fill="#FF8C10"/>
<rect x="523.68" y="206.75" width="12.86" height="5.29" fill="#FF6010"/>
<rect x="536.54" y="206.75" width="38.58" height="5.29" fill="#FF3410"/>
<rect x="575.12" y="206.75" width="25.72" height="5.29" fill="#FF2C2C"/>
<rect x="600.84" y="206.75" width="12.86" height="5.29" fill="#FF4646"/>
<rect x="613.70" y="206.75" width="12.86" height="5.29" fill="#FF2C2C"/>
<rect x="626.56" y="206.75" width="25.72" height="5.29" fill="#FFE400"/>
<rect x="652.28" y="206.75" width="25.72" height="5.29" fill="#40F0D0"/>
<rect x="678.00" y="206.75" width="12.86" height="5.29" fill="#5CF4A8"/>
<rect x="690.86" y="206.75" width="12.86" height="5.29" fill="#40F0D0"/></g>
<line x1="414.7" y1="0.0" x2="414.7" y2="212.9" stroke="#000" stroke-width="2.2"/>
<line x1="413.9" y1="0.6" x2="708.8" y2="0.6" stroke="#000" stroke-width="1.3"/>
<line x1="413.6" y1="211.9" x2="708.8" y2="211.9" stroke="#000" stroke-width="2.0"/>
<line x1="421.1" y1="212.0" x2="421.1" y2="208.5" stroke="#000" stroke-width="1.4"/>
<line x1="421.1" y1="0.5" x2="421.1" y2="3.7" stroke="#000" stroke-width="1.4"/>
<line x1="453.1" y1="212.0" x2="453.1" y2="208.5" stroke="#000" stroke-width="1.4"/>
<line x1="453.1" y1="0.5" x2="453.1" y2="3.7" stroke="#000" stroke-width="1.4"/>
<line x1="477.9" y1="212.0" x2="477.9" y2="206.0" stroke="#000" stroke-width="1.4"/>
<line x1="477.9" y1="0.5" x2="477.9" y2="6.2" stroke="#000" stroke-width="1.4"/>
<line x1="498.2" y1="212.0" x2="498.2" y2="208.5" stroke="#000" stroke-width="1.4"/>
<line x1="498.2" y1="0.5" x2="498.2" y2="3.7" stroke="#000" stroke-width="1.4"/>
<line x1="515.3" y1="212.0" x2="515.3" y2="208.5" stroke="#000" stroke-width="1.4"/>
<line x1="515.3" y1="0.5" x2="515.3" y2="3.7" stroke="#000" stroke-width="1.4"/>
<line x1="530.2" y1="212.0" x2="530.2" y2="208.5" stroke="#000" stroke-width="1.4"/>
<line x1="530.2" y1="0.5" x2="530.2" y2="3.7" stroke="#000" stroke-width="1.4"/>
<line x1="543.3" y1="212.0" x2="543.3" y2="208.5" stroke="#000" stroke-width="1.4"/>
<line x1="543.3" y1="0.5" x2="543.3" y2="3.7" stroke="#000" stroke-width="1.4"/>
<line x1="555.0" y1="212.0" x2="555.0" y2="206.0" stroke="#000" stroke-width="1.4"/>
<line x1="555.0" y1="0.5" x2="555.0" y2="6.2" stroke="#000" stroke-width="1.4"/>
<line x1="632.1" y1="212.0" x2="632.1" y2="206.0" stroke="#000" stroke-width="1.4"/>
<line x1="632.1" y1="0.5" x2="632.1" y2="6.2" stroke="#000" stroke-width="1.4"/>
<line x1="677.1" y1="212.0" x2="677.1" y2="208.5" stroke="#000" stroke-width="1.4"/>
<line x1="677.1" y1="0.5" x2="677.1" y2="3.7" stroke="#000" stroke-width="1.4"/>
<text x="477.9" y="228.0" text-anchor="middle" font-size="13.0" >0.5</text>
<text x="555.0" y="228.0" text-anchor="middle" font-size="13.0" >1</text>
<text x="632.1" y="228.0" text-anchor="middle" font-size="13.0" >2</text>
<text x="562.1" y="253.5" text-anchor="middle" font-size="13.5">s (R<tspan dy="3.5" font-size="9">E</tspan><tspan dy="-3.5">)</tspan></text>
<line x1="414.7" y1="209.3" x2="421.3" y2="209.3" stroke="#000" stroke-width="1.5"/>
<line x1="708.8" y1="209.3" x2="702.7" y2="209.3" stroke="#000" stroke-width="1.5"/>
<line x1="414.7" y1="175.7" x2="418.4" y2="175.7" stroke="#000" stroke-width="1.5"/>
<line x1="708.8" y1="175.7" x2="705.6" y2="175.7" stroke="#000" stroke-width="1.5"/>
<line x1="414.7" y1="142.0" x2="421.3" y2="142.0" stroke="#000" stroke-width="1.5"/>
<line x1="708.8" y1="142.0" x2="702.7" y2="142.0" stroke="#000" stroke-width="1.5"/>
<line x1="414.7" y1="108.4" x2="418.4" y2="108.4" stroke="#000" stroke-width="1.5"/>
<line x1="708.8" y1="108.4" x2="705.6" y2="108.4" stroke="#000" stroke-width="1.5"/>
<line x1="414.7" y1="74.7" x2="421.3" y2="74.7" stroke="#000" stroke-width="1.5"/>
<line x1="708.8" y1="74.7" x2="702.7" y2="74.7" stroke="#000" stroke-width="1.5"/>
<line x1="414.7" y1="41.1" x2="418.4" y2="41.1" stroke="#000" stroke-width="1.5"/>
<line x1="708.8" y1="41.1" x2="705.6" y2="41.1" stroke="#000" stroke-width="1.5"/>
<line x1="414.7" y1="7.4" x2="421.3" y2="7.4" stroke="#000" stroke-width="1.5"/>
<line x1="708.8" y1="7.4" x2="702.7" y2="7.4" stroke="#000" stroke-width="1.5"/>
<text transform="translate(406.4,209.3) rotate(-90)" text-anchor="middle" font-size="13.0" >0</text>
<text transform="translate(406.4,142.0) rotate(-90)" text-anchor="middle" font-size="13.0" >2</text>
<text transform="translate(406.4,74.7) rotate(-90)" text-anchor="middle" font-size="13.0" >4</text>
<text transform="translate(406.4,7.4) rotate(-90)" text-anchor="middle" font-size="13.0" >6</text>
<text transform="translate(387.4,107.0) rotate(-90)" text-anchor="middle" font-size="14.5" font-style="italic">θ</text>
<rect x="708.8" y="0.6" width="21.7" height="211.5" fill="url(#cb)" stroke="#000" stroke-width="1.2"/>
<line x1="708.8" y1="4.2" x2="711.4" y2="4.2" stroke="#000" stroke-width="0.8"/>
<line x1="730.5" y1="4.2" x2="727.9" y2="4.2" stroke="#000" stroke-width="0.8"/>
<line x1="708.8" y1="15.3" x2="711.4" y2="15.3" stroke="#000" stroke-width="0.8"/>
<line x1="730.5" y1="15.3" x2="727.9" y2="15.3" stroke="#000" stroke-width="0.8"/>
<line x1="708.8" y1="26.4" x2="711.4" y2="26.4" stroke="#000" stroke-width="0.8"/>
<line x1="730.5" y1="26.4" x2="727.9" y2="26.4" stroke="#000" stroke-width="0.8"/>
<line x1="708.8" y1="37.5" x2="711.4" y2="37.5" stroke="#000" stroke-width="0.8"/>
<line x1="730.5" y1="37.5" x2="727.9" y2="37.5" stroke="#000" stroke-width="0.8"/>
<line x1="708.8" y1="48.6" x2="711.4" y2="48.6" stroke="#000" stroke-width="0.8"/>
<line x1="730.5" y1="48.6" x2="727.9" y2="48.6" stroke="#000" stroke-width="0.8"/>
<line x1="708.8" y1="59.7" x2="711.4" y2="59.7" stroke="#000" stroke-width="0.8"/>
<line x1="730.5" y1="59.7" x2="727.9" y2="59.7" stroke="#000" stroke-width="0.8"/>
<line x1="708.8" y1="70.8" x2="711.4" y2="70.8" stroke="#000" stroke-width="0.8"/>
<line x1="730.5" y1="70.8" x2="727.9" y2="70.8" stroke="#000" stroke-width="0.8"/>
<line x1="708.8" y1="81.9" x2="711.4" y2="81.9" stroke="#000" stroke-width="0.8"/>
<line x1="730.5" y1="81.9" x2="727.9" y2="81.9" stroke="#000" stroke-width="0.8"/>
<line x1="708.8" y1="93.0" x2="711.4" y2="93.0" stroke="#000" stroke-width="0.8"/>
<line x1="730.5" y1="93.0" x2="727.9" y2="93.0" stroke="#000" stroke-width="0.8"/>
<line x1="708.8" y1="104.1" x2="711.4" y2="104.1" stroke="#000" stroke-width="0.8"/>
<line x1="730.5" y1="104.1" x2="727.9" y2="104.1" stroke="#000" stroke-width="0.8"/>
<line x1="708.8" y1="115.2" x2="711.4" y2="115.2" stroke="#000" stroke-width="0.8"/>
<line x1="730.5" y1="115.2" x2="727.9" y2="115.2" stroke="#000" stroke-width="0.8"/>
<line x1="708.8" y1="126.3" x2="711.4" y2="126.3" stroke="#000" stroke-width="0.8"/>
<line x1="730.5" y1="126.3" x2="727.9" y2="126.3" stroke="#000" stroke-width="0.8"/>
<line x1="708.8" y1="137.4" x2="711.4" y2="137.4" stroke="#000" stroke-width="0.8"/>
<line x1="730.5" y1="137.4" x2="727.9" y2="137.4" stroke="#000" stroke-width="0.8"/>
<line x1="708.8" y1="148.5" x2="711.4" y2="148.5" stroke="#000" stroke-width="0.8"/>
<line x1="730.5" y1="148.5" x2="727.9" y2="148.5" stroke="#000" stroke-width="0.8"/>
<line x1="708.8" y1="159.6" x2="711.4" y2="159.6" stroke="#000" stroke-width="0.8"/>
<line x1="730.5" y1="159.6" x2="727.9" y2="159.6" stroke="#000" stroke-width="0.8"/>
<line x1="708.8" y1="170.7" x2="711.4" y2="170.7" stroke="#000" stroke-width="0.8"/>
<line x1="730.5" y1="170.7" x2="727.9" y2="170.7" stroke="#000" stroke-width="0.8"/>
<line x1="708.8" y1="181.8" x2="711.4" y2="181.8" stroke="#000" stroke-width="0.8"/>
<line x1="730.5" y1="181.8" x2="727.9" y2="181.8" stroke="#000" stroke-width="0.8"/>
<line x1="708.8" y1="192.9" x2="711.4" y2="192.9" stroke="#000" stroke-width="0.8"/>
<line x1="730.5" y1="192.9" x2="727.9" y2="192.9" stroke="#000" stroke-width="0.8"/>
<line x1="708.8" y1="204.0" x2="711.4" y2="204.0" stroke="#000" stroke-width="0.8"/>
<line x1="730.5" y1="204.0" x2="727.9" y2="204.0" stroke="#000" stroke-width="0.8"/>
<text transform="translate(741.1,15.1) rotate(-90)" text-anchor="middle" font-size="10.4" >2×10<tspan dy="-4.5" font-size="6.5">5</tspan></text>
<text transform="translate(741.1,70.0) rotate(-90)" text-anchor="middle" font-size="10.4" >1.5×10<tspan dy="-4.5" font-size="6.5">5</tspan></text>
<text transform="translate(741.1,126.0) rotate(-90)" text-anchor="middle" font-size="10.4" >10<tspan dy="-4.5" font-size="6.5">5</tspan></text>
<text transform="translate(741.1,182.0) rotate(-90)" text-anchor="middle" font-size="10.4" >6×10<tspan dy="-4.5" font-size="6.5">4</tspan></text>
<text transform="translate(752.3,11.1) rotate(-90)" text-anchor="middle" font-size="10.0" >χ<tspan dy="-4.5" font-size="6.5">2</tspan></text>
<circle cx="571.5" cy="28.3" r="4.8" fill="#000"/>
<g shape-rendering="crispEdges"><rect x="36.20" y="281.50" width="26.90" height="5.29" fill="#84F67C"/>
<rect x="63.10" y="281.50" width="26.90" height="5.29" fill="#D8F828"/>
<rect x="90.00" y="281.50" width="26.90" height="5.29" fill="#FFAA00"/>
<rect x="116.90" y="281.50" width="26.90" height="5.29" fill="#FFC800"/>
<rect x="143.80" y="281.50" width="26.90" height="5.29" fill="#FF3410"/>
<rect x="170.70" y="281.50" width="26.90" height="5.29" fill="#F6F810"/>
<rect x="197.60" y="281.50" width="26.90" height="5.29" fill="#FF1010"/>
<rect x="224.50" y="281.50" width="80.70" height="5.29" fill="#FF2C2C"/>
<rect x="305.20" y="281.50" width="26.20" height="5.29" fill="#FF4646"/>
<rect x="36.20" y="286.79" width="26.90" height="5.29" fill="#84F67C"/>
<rect x="63.10" y="286.79" width="26.90" height="5.29" fill="#F6F810"/>
<rect x="90.00" y="286.79" width="26.90" height="5.29" fill="#FFE400"/>
<rect x="116.90" y="286.79" width="53.80" height="5.29" fill="#FF3410"/>
<rect x="170.70" y="286.79" width="53.80" height="5.29" fill="#FF1010"/>
<rect x="224.50" y="286.79" width="26.90" height="5.29" fill="#FF2C2C"/>
<rect x="251.40" y="286.79" width="53.80" height="5.29" fill="#FF4646"/>
<rect x="305.20" y="286.79" width="26.20" height="5.29" fill="#FF5C5C"/>
<rect x="36.20" y="292.07" width="26.90" height="5.29" fill="#24E4F0"/>
<rect x="63.10" y="292.07" width="26.90" height="5.29" fill="#F6F810"/>
<rect x="90.00" y="292.07" width="26.90" height="5.29" fill="#FFE400"/>
<rect x="116.90" y="292.07" width="26.90" height="5.29" fill="#FF8C10"/>
<rect x="143.80" y="292.07" width="26.90" height="5.29" fill="#FF3410"/>
<rect x="170.70" y="292.07" width="53.80" height="5.29" fill="#FF1010"/>
<rect x="224.50" y="292.07" width="26.90" height="5.29" fill="#FF2C2C"/>
<rect x="251.40" y="292.07" width="53.80" height="5.29" fill="#FF4646"/>
<rect x="305.20" y="292.07" width="26.20" height="5.29" fill="#FF5C5C"/>
<rect x="36.20" y="297.36" width="26.90" height="5.29" fill="#AEF652"/>
<rect x="63.10" y="297.36" width="26.90" height="5.29" fill="#D8F828"/>
<rect x="90.00" y="297.36" width="26.90" height="5.29" fill="#FFAA00"/>
<rect x="116.90" y="297.36" width="80.70" height="5.29" fill="#FF3410"/>
<rect x="197.60" y="297.36" width="53.80" height="5.29" fill="#FF1010"/>
<rect x="251.40" y="297.36" width="26.90" height="5.29" fill="#FF2C2C"/>
<rect x="278.30" y="297.36" width="26.90" height="5.29" fill="#FF4646"/>
<rect x="305.20" y="297.36" width="26.20" height="5.29" fill="#FF5C5C"/>
<rect x="36.20" y="302.64" width="26.90" height="5.29" fill="#84F67C"/>
<rect x="63.10" y="302.64" width="26.90" height="5.29" fill="#D8F828"/>
<rect x="90.00" y="302.64" width="53.80" height="5.29" fill="#FFE400"/>
<rect x="143.80" y="302.64" width="26.90" height="5.29" fill="#FF6010"/>
<rect x="170.70" y="302.64" width="26.90" height="5.29" fill="#FF3410"/>
<rect x="197.60" y="302.64" width="26.90" height="5.29" fill="#FF1010"/>
<rect x="224.50" y="302.64" width="26.90" height="5.29" fill="#FF3410"/>
<rect x="251.40" y="302.64" width="26.90" height="5.29" fill="#FF1010"/>
<rect x="278.30" y="302.64" width="26.90" height="5.29" fill="#FF4646"/>
<rect x="305.20" y="302.64" width="26.20" height="5.29" fill="#FF5C5C"/>
<rect x="36.20" y="307.93" width="26.90" height="5.29" fill="#40F0D0"/>
<rect x="63.10" y="307.93" width="26.90" height="5.29" fill="#00088C"/>
<rect x="90.00" y="307.93" width="26.90" height="5.29" fill="#FF8C10"/>
<rect x="116.90" y="307.93" width="26.90" height="5.29" fill="#FFAA00"/>
<rect x="143.80" y="307.93" width="26.90" height="5.29" fill="#FF3410"/>
<rect x="170.70" y="307.93" width="26.90" height="5.29" fill="#FF6010"/>
<rect x="197.60" y="307.93" width="26.90" height="5.29" fill="#FF8C10"/>
<rect x="224.50" y="307.93" width="26.90" height="5.29" fill="#FF3410"/>
<rect x="251.40" y="307.93" width="26.90" height="5.29" fill="#FF2C2C"/>
<rect x="278.30" y="307.93" width="53.10" height="5.29" fill="#FF5C5C"/>
<rect x="36.20" y="313.22" width="26.90" height="5.29" fill="#AEF652"/>
<rect x="63.10" y="313.22" width="26.90" height="5.29" fill="#FFAA00"/>
<rect x="90.00" y="313.22" width="26.90" height="5.29" fill="#D8F828"/>
<rect x="116.90" y="313.22" width="26.90" height="5.29" fill="#FFAA00"/>
<rect x="143.80" y="313.22" width="26.90" height="5.29" fill="#FF6010"/>
<rect x="170.70" y="313.22" width="26.90" height="5.29" fill="#FF3410"/>
<rect x="197.60" y="313.22" width="53.80" height="5.29" fill="#FF8C10"/>
<rect x="251.40" y="313.22" width="26.90" height="5.29" fill="#FF4646"/>
<rect x="278.30" y="313.22" width="26.90" height="5.29" fill="#FF5C5C"/>
<rect x="305.20" y="313.22" width="26.20" height="5.29" fill="#FF2C2C"/>
<rect x="36.20" y="318.50" width="26.90" height="5.29" fill="#84F67C"/>
<rect x="63.10" y="318.50" width="53.80" height="5.29" fill="#FFAA00"/>
<rect x="116.90" y="318.50" width="26.90" height="5.29" fill="#FFC800"/>
<rect x="143.80" y="318.50" width="26.90" height="5.29" fill="#FF3410"/>
<rect x="170.70" y="318.50" width="53.80" height="5.29" fill="#FF1010"/>
<rect x="224.50" y="318.50" width="26.90" height="5.29" fill="#FF3410"/>
<rect x="251.40" y="318.50" width="26.90" height="5.29" fill="#FF2C2C"/>
<rect x="278.30" y="318.50" width="53.10" height="5.29" fill="#FF4646"/>
<rect x="36.20" y="323.79" width="26.90" height="5.29" fill="#0418B8"/>
<rect x="63.10" y="323.79" width="80.70" height="5.29" fill="#FFE400"/>
<rect x="143.80" y="323.79" width="26.90" height="5.29" fill="#FF6010"/>
<rect x="170.70" y="323.79" width="53.80" height="5.29" fill="#FF1010"/>
<rect x="224.50" y="323.79" width="26.90" height="5.29" fill="#FF3410"/>
<rect x="251.40" y="323.79" width="26.90" height="5.29" fill="#FFAA00"/>
<rect x="278.30" y="323.79" width="26.90" height="5.29" fill="#FF4646"/>
<rect x="305.20" y="323.79" width="26.20" height="5.29" fill="#FF2C2C"/>
<rect x="36.20" y="329.07" width="26.90" height="5.29" fill="#0418B8"/>
<rect x="63.10" y="329.07" width="26.90" height="5.29" fill="#84F67C"/>
<rect x="90.00" y="329.07" width="26.90" height="5.29" fill="#D8F828"/>
<rect x="116.90" y="329.07" width="26.90" height="5.29" fill="#FFE400"/>
<rect x="143.80" y="329.07" width="26.90" height="5.29" fill="#FFAA00"/>
<rect x="170.70" y="329.07" width="53.80" height="5.29" fill="#FF1010"/>
<rect x="224.50" y="329.07" width="26.90" height="5.29" fill="#FF8C10"/>
<rect x="251.40" y="329.07" width="26.90" height="5.29" fill="#FFC800"/>
<rect x="278.30" y="329.07" width="26.90" height="5.29" fill="#FF3410"/>
<rect x="305.20" y="329.07" width="26.20" height="5.29" fill="#F6F810"/>
<rect x="36.20" y="334.36" width="26.90" height="5.29" fill="#5CF4A8"/>
<rect x="63.10" y="334.36" width="53.80" height="5.29" fill="#AEF652"/>
<rect x="116.90" y="334.36" width="26.90" height="5.29" fill="#F6F810"/>
<rect x="143.80" y="334.36" width="26.90" height="5.29" fill="#FFAA00"/>
<rect x="170.70" y="334.36" width="53.80" height="5.29" fill="#FF1010"/>
<rect x="224.50" y="334.36" width="26.90" height="5.29" fill="#FF6010"/>
<rect x="251.40" y="334.36" width="26.90" height="5.29" fill="#FFC800"/>
<rect x="278.30" y="334.36" width="53.10" height="5.29" fill="#FF2C2C"/>
<rect x="36.20" y="339.65" width="26.90" height="5.29" fill="#5CF4A8"/>
<rect x="63.10" y="339.65" width="26.90" height="5.29" fill="#D8F828"/>
<rect x="90.00" y="339.65" width="26.90" height="5.29" fill="#AEF652"/>
<rect x="116.90" y="339.65" width="26.90" height="5.29" fill="#F6F810"/>
<rect x="143.80" y="339.65" width="26.90" height="5.29" fill="#FF8C10"/>
<rect x="170.70" y="339.65" width="26.90" height="5.29" fill="#FF3410"/>
<rect x="197.60" y="339.65" width="53.80" height="5.29" fill="#FF1010"/>
<rect x="251.40" y="339.65" width="26.90" height="5.29" fill="#FFC800"/>
<rect x="278.30" y="339.65" width="53.10" height="5.29" fill="#FF4646"/>
<rect x="36.20" y="344.93" width="26.90" height="5.29" fill="#84F67C"/>
<rect x="63.10" y="344.93" width="26.90" height="5.29" fill="#D8F828"/>
<rect x="90.00" y="344.93" width="26.90" height="5.29" fill="#AEF652"/>
<rect x="116.90" y="344.93" width="26.90" height="5.29" fill="#FFC800"/>
<rect x="143.80" y="344.93" width="26.90" height="5.29" fill="#FF8C10"/>
<rect x="170.70" y="344.93" width="26.90" height="5.29" fill="#FF3410"/>
<rect x="197.60" y="344.93" width="53.80" height="5.29" fill="#FF1010"/>
<rect x="251.40" y="344.93" width="26.90" height="5.29" fill="#F6F810"/>
<rect x="278.30" y="344.93" width="26.90" height="5.29" fill="#FF4646"/>
<rect x="305.20" y="344.93" width="26.20" height="5.29" fill="#FF2C2C"/>
<rect x="36.20" y="350.22" width="26.90" height="5.29" fill="#00088C"/>
<rect x="63.10" y="350.22" width="26.90" height="5.29" fill="#0418B8"/>
<rect x="90.00" y="350.22" width="26.90" height="5.29" fill="#FFC800"/>
<rect x="116.90" y="350.22" width="26.90" height="5.29" fill="#FFE400"/>
<rect x="143.80" y="350.22" width="26.90" height="5.29" fill="#FF6010"/>
<rect x="170.70" y="350.22" width="80.70" height="5.29" fill="#FF1010"/>
<rect x="251.40" y="350.22" width="26.90" height="5.29" fill="#FF8C10"/>
<rect x="278.30" y="350.22" width="26.90" height="5.29" fill="#FF2C2C"/>
<rect x="305.20" y="350.22" width="26.20" height="5.29" fill="#FF4646"/>
<rect x="36.20" y="355.50" width="26.90" height="5.29" fill="#00088C"/>
<rect x="63.10" y="355.50" width="26.90" height="5.29" fill="#20B8F0"/>
<rect x="90.00" y="355.50" width="26.90" height="5.29" fill="#F6F810"/>
<rect x="116.90" y="355.50" width="26.90" height="5.29" fill="#FFC800"/>
<rect x="143.80" y="355.50" width="26.90" height="5.29" fill="#FFAA00"/>
<rect x="170.70" y="355.50" width="26.90" height="5.29" fill="#FF1010"/>
<rect x="197.60" y="355.50" width="26.90" height="5.29" fill="#F6F810"/>
<rect x="224.50" y="355.50" width="26.90" height="5.29" fill="#FF6010"/>
<rect x="251.40" y="355.50" width="53.80" height="5.29" fill="#FF2C2C"/>
<rect x="305.20" y="355.50" width="26.20" height="5.29" fill="#FF4646"/>
<rect x="36.20" y="360.79" width="26.90" height="5.29" fill="#00088C"/>
<rect x="63.10" y="360.79" width="26.90" height="5.29" fill="#84F67C"/>
<rect x="90.00" y="360.79" width="26.90" height="5.29" fill="#20B8F0"/>
<rect x="116.90" y="360.79" width="26.90" height="5.29" fill="#FF8C10"/>
<rect x="143.80" y="360.79" width="26.90" height="5.29" fill="#FF6010"/>
<rect x="170.70" y="360.79" width="80.70" height="5.29" fill="#FF3410"/>
<rect x="251.40" y="360.79" width="26.90" height="5.29" fill="#FF1010"/>
<rect x="278.30" y="360.79" width="53.10" height="5.29" fill="#FF4646"/>
<rect x="36.20" y="366.08" width="26.90" height="5.29" fill="#84F67C"/>
<rect x="63.10" y="366.08" width="26.90" height="5.29" fill="#40F0D0"/>
<rect x="90.00" y="366.08" width="53.80" height="5.29" fill="#D8F828"/>
<rect x="143.80" y="366.08" width="26.90" height="5.29" fill="#FF3410"/>
<rect x="170.70" y="366.08" width="26.90" height="5.29" fill="#FF1010"/>
<rect x="197.60" y="366.08" width="26.90" height="5.29" fill="#FF6010"/>
<rect x="224.50" y="366.08" width="26.90" height="5.29" fill="#F6F810"/>
<rect x="251.40" y="366.08" width="26.90" height="5.29" fill="#FF4646"/>
<rect x="278.30" y="366.08" width="53.10" height="5.29" fill="#FF5C5C"/>
<rect x="36.20" y="371.36" width="26.90" height="5.29" fill="#5CF4A8"/>
<rect x="63.10" y="371.36" width="53.80" height="5.29" fill="#AEF652"/>
<rect x="116.90" y="371.36" width="26.90" height="5.29" fill="#F6F810"/>
<rect x="143.80" y="371.36" width="53.80" height="5.29" fill="#FF8C10"/>
<rect x="197.60" y="371.36" width="26.90" height="5.29" fill="#FFAA00"/>
<rect x="224.50" y="371.36" width="26.90" height="5.29" fill="#FF8C10"/>
<rect x="251.40" y="371.36" width="26.90" height="5.29" fill="#FF2C2C"/>
<rect x="278.30" y="371.36" width="53.10" height="5.29" fill="#FF5C5C"/>
<rect x="36.20" y="376.65" width="26.90" height="5.29" fill="#5CF4A8"/>
<rect x="63.10" y="376.65" width="26.90" height="5.29" fill="#0418B8"/>
<rect x="90.00" y="376.65" width="26.90" height="5.29" fill="#AEF652"/>
<rect x="116.90" y="376.65" width="53.80" height="5.29" fill="#FFE400"/>
<rect x="170.70" y="376.65" width="26.90" height="5.29" fill="#FF1010"/>
<rect x="197.60" y="376.65" width="26.90" height="5.29" fill="#FFC800"/>
<rect x="224.50" y="376.65" width="26.90" height="5.29" fill="#FF1010"/>
<rect x="251.40" y="376.65" width="26.90" height="5.29" fill="#FFAA00"/>
<rect x="278.30" y="376.65" width="53.10" height="5.29" fill="#FF2C2C"/>
<rect x="36.20" y="381.93" width="53.80" height="5.29" fill="#00088C"/>
<rect x="90.00" y="381.93" width="26.90" height="5.29" fill="#AEF652"/>
<rect x="116.90" y="381.93" width="26.90" height="5.29" fill="#FFE400"/>
<rect x="143.80" y="381.93" width="26.90" height="5.29" fill="#FFC800"/>
<rect x="170.70" y="381.93" width="26.90" height="5.29" fill="#F6F810"/>
<rect x="197.60" y="381.93" width="26.90" height="5.29" fill="#FFC800"/>
<rect x="224.50" y="381.93" width="26.90" height="5.29" fill="#FF8C10"/>
<rect x="251.40" y="381.93" width="26.90" height="5.29" fill="#FFAA00"/>
<rect x="278.30" y="381.93" width="53.10" height="5.29" fill="#FF2C2C"/>
<rect x="36.20" y="387.22" width="26.90" height="5.29" fill="#5CF4A8"/>
<rect x="63.10" y="387.22" width="26.90" height="5.29" fill="#AEF652"/>
<rect x="90.00" y="387.22" width="26.90" height="5.29" fill="#40F0D0"/>
<rect x="116.90" y="387.22" width="26.90" height="5.29" fill="#FF8C10"/>
<rect x="143.80" y="387.22" width="26.90" height="5.29" fill="#D8F828"/>
<rect x="170.70" y="387.22" width="26.90" height="5.29" fill="#F6F810"/>
<rect x="197.60" y="387.22" width="26.90" height="5.29" fill="#FFC800"/>
<rect x="224.50" y="387.22" width="26.90" height="5.29" fill="#FF4646"/>
<rect x="251.40" y="387.22" width="26.90" height="5.29" fill="#FF2C2C"/>
<rect x="278.30" y="387.22" width="26.90" height="5.29" fill="#FF4646"/>
<rect x="305.20" y="387.22" width="26.20" height="5.29" fill="#FFAA00"/>
<rect x="36.20" y="392.51" width="26.90" height="5.29" fill="#5CF4A8"/>
<rect x="63.10" y="392.51" width="26.90" height="5.29" fill="#F6F810"/>
<rect x="90.00" y="392.51" width="26.90" height="5.29" fill="#5CF4A8"/>
<rect x="116.90" y="392.51" width="26.90" height="5.29" fill="#F6F810"/>
<rect x="143.80" y="392.51" width="26.90" height="5.29" fill="#FFC800"/>
<rect x="170.70" y="392.51" width="26.90" height="5.29" fill="#FFE400"/>
<rect x="197.60" y="392.51" width="26.90" height="5.29" fill="#FF8C10"/>
<rect x="224.50" y="392.51" width="106.90" height="5.29" fill="#FF4646"/>
<rect x="36.20" y="397.79" width="26.90" height="5.29" fill="#00088C"/>
<rect x="63.10" y="397.79" width="26.90" height="5.29" fill="#D8F828"/>
<rect x="90.00" y="397.79" width="26.90" height="5.29" fill="#AEF652"/>
<rect x="116.90" y="397.79" width="26.90" height="5.29" fill="#D8F828"/>
<rect x="143.80" y="397.79" width="26.90" height="5.29" fill="#FF6010"/>
<rect x="170.70" y="397.79" width="53.80" height="5.29" fill="#FF1010"/>
<rect x="224.50" y="397.79" width="26.90" height="5.29" fill="#FF2C2C"/>
<rect x="251.40" y="397.79" width="26.90" height="5.29" fill="#FF4646"/>
<rect x="278.30" y="397.79" width="53.10" height="5.29" fill="#FF5C5C"/>
<rect x="36.20" y="403.08" width="26.90" height="5.29" fill="#84F67C"/>
<rect x="63.10" y="403.08" width="53.80" height="5.29" fill="#AEF652"/>
<rect x="116.90" y="403.08" width="26.90" height="5.29" fill="#FFAA00"/>
<rect x="143.80" y="403.08" width="26.90" height="5.29" fill="#FF6010"/>
<rect x="170.70" y="403.08" width="80.70" height="5.29" fill="#FF1010"/>
<rect x="251.40" y="403.08" width="26.90" height="5.29" fill="#FF2C2C"/>
<rect x="278.30" y="403.08" width="53.10" height="5.29" fill="#FF5C5C"/>
<rect x="36.20" y="408.36" width="26.90" height="5.29" fill="#24E4F0"/>
<rect x="63.10" y="408.36" width="26.90" height="5.29" fill="#AEF652"/>
<rect x="90.00" y="408.36" width="26.90" height="5.29" fill="#D8F828"/>
<rect x="116.90" y="408.36" width="26.90" height="5.29" fill="#FFC800"/>
<rect x="143.80" y="408.36" width="26.90" height="5.29" fill="#F6F810"/>
<rect x="170.70" y="408.36" width="26.90" height="5.29" fill="#FF3410"/>
<rect x="197.60" y="408.36" width="26.90" height="5.29" fill="#FF1010"/>
<rect x="224.50" y="408.36" width="26.90" height="5.29" fill="#FF8C10"/>
<rect x="251.40" y="408.36" width="26.90" height="5.29" fill="#FF1010"/>
<rect x="278.30" y="408.36" width="26.90" height="5.29" fill="#FF4646"/>
<rect x="305.20" y="408.36" width="26.20" height="5.29" fill="#FF5C5C"/>
<rect x="36.20" y="413.65" width="26.90" height="5.29" fill="#84F67C"/>
<rect x="63.10" y="413.65" width="26.90" height="5.29" fill="#1070E0"/>
<rect x="90.00" y="413.65" width="26.90" height="5.29" fill="#AEF652"/>
<rect x="116.90" y="413.65" width="26.90" height="5.29" fill="#FFC800"/>
<rect x="143.80" y="413.65" width="26.90" height="5.29" fill="#FF8C10"/>
<rect x="170.70" y="413.65" width="26.90" height="5.29" fill="#FF3410"/>
<rect x="197.60" y="413.65" width="53.80" height="5.29" fill="#FF1010"/>
<rect x="251.40" y="413.65" width="26.90" height="5.29" fill="#FF8C10"/>
<rect x="278.30" y="413.65" width="53.10" height="5.29" fill="#FF4646"/>
<rect x="36.20" y="418.94" width="26.90" height="5.29" fill="#0418B8"/>
<rect x="63.10" y="418.94" width="26.90" height="5.29" fill="#24E4F0"/>
<rect x="90.00" y="418.94" width="26.90" height="5.29" fill="#F6F810"/>
<rect x="116.90" y="418.94" width="26.90" height="5.29" fill="#FFAA00"/>
<rect x="143.80" y="418.94" width="26.90" height="5.29" fill="#FF8C10"/>
<rect x="170.70" y="418.94" width="26.90" height="5.29" fill="#FF1010"/>
<rect x="197.60" y="418.94" width="26.90" height="5.29" fill="#FF3410"/>
<rect x="224.50" y="418.94" width="26.90" height="5.29" fill="#FF1010"/>
<rect x="251.40" y="418.94" width="26.90" height="5.29" fill="#D8F828"/>
<rect x="278.30" y="418.94" width="53.10" height="5.29" fill="#FF2C2C"/>
<rect x="36.20" y="424.22" width="53.80" height="5.29" fill="#00088C"/>
<rect x="90.00" y="424.22" width="26.90" height="5.29" fill="#D8F828"/>
<rect x="116.90" y="424.22" width="26.90" height="5.29" fill="#F6F810"/>
<rect x="143.80" y="424.22" width="26.90" height="5.29" fill="#FF8C10"/>
<rect x="170.70" y="424.22" width="53.80" height="5.29" fill="#FF1010"/>
<rect x="224.50" y="424.22" width="26.90" height="5.29" fill="#FF3410"/>
<rect x="251.40" y="424.22" width="26.90" height="5.29" fill="#FF2C2C"/>
<rect x="278.30" y="424.22" width="26.90" height="5.29" fill="#FF4646"/>
<rect x="305.20" y="424.22" width="26.20" height="5.29" fill="#FF2C2C"/>
<rect x="36.20" y="429.51" width="26.90" height="5.29" fill="#00088C"/>
<rect x="63.10" y="429.51" width="26.90" height="5.29" fill="#D8F828"/>
<rect x="90.00" y="429.51" width="26.90" height="5.29" fill="#AEF652"/>
<rect x="116.90" y="429.51" width="26.90" height="5.29" fill="#F6F810"/>
<rect x="143.80" y="429.51" width="26.90" height="5.29" fill="#FF6010"/>
<rect x="170.70" y="429.51" width="53.80" height="5.29" fill="#FF1010"/>
<rect x="224.50" y="429.51" width="53.80" height="5.29" fill="#FF3410"/>
<rect x="278.30" y="429.51" width="26.90" height="5.29" fill="#FF4646"/>
<rect x="305.20" y="429.51" width="26.20" height="5.29" fill="#FF2C2C"/>
<rect x="36.20" y="434.79" width="26.90" height="5.29" fill="#00088C"/>
<rect x="63.10" y="434.79" width="26.90" height="5.29" fill="#F6F810"/>
<rect x="90.00" y="434.79" width="26.90" height="5.29" fill="#D8F828"/>
<rect x="116.90" y="434.79" width="26.90" height="5.29" fill="#F6F810"/>
<rect x="143.80" y="434.79" width="26.90" height="5.29" fill="#FFC800"/>
<rect x="170.70" y="434.79" width="53.80" height="5.29" fill="#FF1010"/>
<rect x="224.50" y="434.79" width="26.90" height="5.29" fill="#FFAA00"/>
<rect x="251.40" y="434.79" width="26.90" height="5.29" fill="#FF1010"/>
<rect x="278.30" y="434.79" width="26.90" height="5.29" fill="#FF2C2C"/>
<rect x="305.20" y="434.79" width="26.20" height="5.29" fill="#FFAA00"/>
<rect x="36.20" y="440.08" width="26.90" height="5.29" fill="#AEF652"/>
<rect x="63.10" y="440.08" width="26.90" height="5.29" fill="#F6F810"/>
<rect x="90.00" y="440.08" width="53.80" height="5.29" fill="#FFE400"/>
<rect x="143.80" y="440.08" width="26.90" height="5.29" fill="#FF3410"/>
<rect x="170.70" y="440.08" width="53.80" height="5.29" fill="#FF1010"/>
<rect x="224.50" y="440.08" width="26.90" height="5.29" fill="#FF6010"/>
<rect x="251.40" y="440.08" width="26.90" height="5.29" fill="#FF1010"/>
<rect x="278.30" y="440.08" width="53.10" height="5.29" fill="#FF2C2C"/>
<rect x="36.20" y="445.37" width="26.90" height="5.29" fill="#AEF652"/>
<rect x="63.10" y="445.37" width="26.90" height="5.29" fill="#F6F810"/>
<rect x="90.00" y="445.37" width="53.80" height="5.29" fill="#FFC800"/>
<rect x="143.80" y="445.37" width="26.90" height="5.29" fill="#FF3410"/>
<rect x="170.70" y="445.37" width="80.70" height="5.29" fill="#FF1010"/>
<rect x="251.40" y="445.37" width="26.90" height="5.29" fill="#FF2C2C"/>
<rect x="278.30" y="445.37" width="53.10" height="5.29" fill="#FF4646"/>
<rect x="36.20" y="450.65" width="26.90" height="5.29" fill="#D8F828"/>
<rect x="63.10" y="450.65" width="26.90" height="5.29" fill="#F6F810"/>
<rect x="90.00" y="450.65" width="53.80" height="5.29" fill="#FFAA00"/>
<rect x="143.80" y="450.65" width="53.80" height="5.29" fill="#FF3410"/>
<rect x="197.60" y="450.65" width="26.90" height="5.29" fill="#FF1010"/>
<rect x="224.50" y="450.65" width="26.90" height="5.29" fill="#FF6010"/>
<rect x="251.40" y="450.65" width="80.00" height="5.29" fill="#FF4646"/>
<rect x="36.20" y="455.94" width="26.90" height="5.29" fill="#84F67C"/>
<rect x="63.10" y="455.94" width="26.90" height="5.29" fill="#FFE400"/>
<rect x="90.00" y="455.94" width="53.80" height="5.29" fill="#FF8C10"/>
<rect x="143.80" y="455.94" width="53.80" height="5.29" fill="#FF3410"/>
<rect x="197.60" y="455.94" width="26.90" height="5.29" fill="#FF1010"/>
<rect x="224.50" y="455.94" width="26.90" height="5.29" fill="#FF2C2C"/>
<rect x="251.40" y="455.94" width="26.90" height="5.29" fill="#FF4646"/>
<rect x="278.30" y="455.94" width="26.90" height="5.29" fill="#FF2C2C"/>
<rect x="305.20" y="455.94" width="26.20" height="5.29" fill="#FF4646"/>
<rect x="36.20" y="461.22" width="26.90" height="5.29" fill="#00088C"/>
<rect x="63.10" y="461.22" width="26.90" height="5.29" fill="#D8F828"/>
<rect x="90.00" y="461.22" width="53.80" height="5.29" fill="#FF6010"/>
<rect x="143.80" y="461.22" width="53.80" height="5.29" fill="#FF3410"/>
<rect x="197.60" y="461.22" width="26.90" height="5.29" fill="#FF1010"/>
<rect x="224.50" y="461.22" width="26.90" height="5.29" fill="#FF3410"/>
<rect x="251.40" y="461.22" width="26.90" height="5.29" fill="#FF2C2C"/>
<rect x="278.30" y="461.22" width="26.90" height="5.29" fill="#FF4646"/>
<rect x="305.20" y="461.22" width="26.20" height="5.29" fill="#FF5C5C"/>
<rect x="36.20" y="466.51" width="26.90" height="5.29" fill="#0838D4"/>
<rect x="63.10" y="466.51" width="26.90" height="5.29" fill="#D8F828"/>
<rect x="90.00" y="466.51" width="26.90" height="5.29" fill="#FF8C10"/>
<rect x="116.90" y="466.51" width="26.90" height="5.29" fill="#FF6010"/>
<rect x="143.80" y="466.51" width="53.80" height="5.29" fill="#FF3410"/>
<rect x="197.60" y="466.51" width="26.90" height="5.29" fill="#FF1010"/>
<rect x="224.50" y="466.51" width="26.90" height="5.29" fill="#FF3410"/>
<rect x="251.40" y="466.51" width="26.90" height="5.29" fill="#FF2C2C"/>
<rect x="278.30" y="466.51" width="53.10" height="5.29" fill="#FF5C5C"/>
<rect x="36.20" y="471.80" width="26.90" height="5.29" fill="#00088C"/>
<rect x="63.10" y="471.80" width="26.90" height="5.29" fill="#D8F828"/>
<rect x="90.00" y="471.80" width="26.90" height="5.29" fill="#FFAA00"/>
<rect x="116.90" y="471.80" width="26.90" height="5.29" fill="#FFC800"/>
<rect x="143.80" y="471.80" width="26.90" height="5.29" fill="#FF1010"/>
<rect x="170.70" y="471.80" width="26.90" height="5.29" fill="#FF3410"/>
<rect x="197.60" y="471.80" width="80.70" height="5.29" fill="#FF2C2C"/>
<rect x="278.30" y="471.80" width="26.90" height="5.29" fill="#FF4646"/>
<rect x="305.20" y="471.80" width="26.20" height="5.29" fill="#FF5C5C"/>
<rect x="36.20" y="477.08" width="26.90" height="5.29" fill="#84F67C"/>
<rect x="63.10" y="477.08" width="26.90" height="5.29" fill="#D8F828"/>
<rect x="90.00" y="477.08" width="53.80" height="5.29" fill="#FF8C10"/>
<rect x="143.80" y="477.08" width="26.90" height="5.29" fill="#FF1010"/>
<rect x="170.70" y="477.08" width="26.90" height="5.29" fill="#FF3410"/>
<rect x="197.60" y="477.08" width="80.70" height="5.29" fill="#FF2C2C"/>
<rect x="278.30" y="477.08" width="53.10" height="5.29" fill="#FF5C5C"/>
<rect x="36.20" y="482.37" width="26.90" height="5.29" fill="#D8F828"/>
<rect x="63.10" y="482.37" width="26.90" height="5.29" fill="#5CF4A8"/>
<rect x="90.00" y="482.37" width="26.90" height="5.29" fill="#FF8C10"/>
<rect x="116.90" y="482.37" width="53.80" height="5.29" fill="#FF6010"/>
<rect x="170.70" y="482.37" width="26.90" height="5.29" fill="#FF8C10"/>
<rect x="197.60" y="482.37" width="26.90" height="5.29" fill="#FFC800"/>
<rect x="224.50" y="482.37" width="26.90" height="5.29" fill="#FF3410"/>
<rect x="251.40" y="482.37" width="26.90" height="5.29" fill="#FF2C2C"/>
<rect x="278.30" y="482.37" width="26.90" height="5.29" fill="#FF4646"/>
<rect x="305.20" y="482.37" width="26.20" height="5.29" fill="#FF6010"/>
<rect x="36.20" y="487.65" width="80.70" height="5.25" fill="#00088C"/>
<rect x="116.90" y="487.65" width="26.90" height="5.25" fill="#0838D4"/>
<rect x="143.80" y="487.65" width="26.90" height="5.25" fill="#20B8F0"/>
<rect x="170.70" y="487.65" width="26.90" height="5.25" fill="#40F0D0"/>
<rect x="197.60" y="487.65" width="26.90" height="5.25" fill="#D8F828"/>
<rect x="224.50" y="487.65" width="26.90" height="5.25" fill="#FFC800"/>
<rect x="251.40" y="487.65" width="26.90" height="5.25" fill="#FF1010"/>
<rect x="278.30" y="487.65" width="26.90" height="5.25" fill="#FF4646"/>
<rect x="305.20" y="487.65" width="26.20" height="5.25" fill="#FF8C10"/></g>
<rect x="36.4" y="281.3" width="294.8" height="211.6" fill="none" stroke="#000" stroke-width="0.9"/>
<line x1="38.5" y1="492.8" x2="38.5" y2="490.3" stroke="#000" stroke-width="1.0"/>
<line x1="38.5" y1="281.5" x2="38.5" y2="284.0" stroke="#000" stroke-width="1.0"/>
<line x1="42.4" y1="492.8" x2="42.4" y2="490.3" stroke="#000" stroke-width="1.0"/>
<line x1="42.4" y1="281.5" x2="42.4" y2="284.0" stroke="#000" stroke-width="1.0"/>
<line x1="45.8" y1="492.8" x2="45.8" y2="490.3" stroke="#000" stroke-width="1.0"/>
<line x1="45.8" y1="281.5" x2="45.8" y2="284.0" stroke="#000" stroke-width="1.0"/>
<line x1="48.9" y1="492.8" x2="48.9" y2="487.8" stroke="#000" stroke-width="1.0"/>
<line x1="48.9" y1="281.5" x2="48.9" y2="286.5" stroke="#000" stroke-width="1.0"/>
<line x1="69.2" y1="492.8" x2="69.2" y2="490.3" stroke="#000" stroke-width="1.0"/>
<line x1="69.2" y1="281.5" x2="69.2" y2="284.0" stroke="#000" stroke-width="1.0"/>
<line x1="81.1" y1="492.8" x2="81.1" y2="490.3" stroke="#000" stroke-width="1.0"/>
<line x1="81.1" y1="281.5" x2="81.1" y2="284.0" stroke="#000" stroke-width="1.0"/>
<line x1="89.5" y1="492.8" x2="89.5" y2="490.3" stroke="#000" stroke-width="1.0"/>
<line x1="89.5" y1="281.5" x2="89.5" y2="284.0" stroke="#000" stroke-width="1.0"/>
<line x1="96.0" y1="492.8" x2="96.0" y2="490.3" stroke="#000" stroke-width="1.0"/>
<line x1="96.0" y1="281.5" x2="96.0" y2="284.0" stroke="#000" stroke-width="1.0"/>
<line x1="101.3" y1="492.8" x2="101.3" y2="490.3" stroke="#000" stroke-width="1.0"/>
<line x1="101.3" y1="281.5" x2="101.3" y2="284.0" stroke="#000" stroke-width="1.0"/>
<line x1="105.9" y1="492.8" x2="105.9" y2="490.3" stroke="#000" stroke-width="1.0"/>
<line x1="105.9" y1="281.5" x2="105.9" y2="284.0" stroke="#000" stroke-width="1.0"/>
<line x1="109.8" y1="492.8" x2="109.8" y2="490.3" stroke="#000" stroke-width="1.0"/>
<line x1="109.8" y1="281.5" x2="109.8" y2="284.0" stroke="#000" stroke-width="1.0"/>
<line x1="113.2" y1="492.8" x2="113.2" y2="490.3" stroke="#000" stroke-width="1.0"/>
<line x1="113.2" y1="281.5" x2="113.2" y2="284.0" stroke="#000" stroke-width="1.0"/>
<line x1="116.3" y1="492.8" x2="116.3" y2="487.8" stroke="#000" stroke-width="1.0"/>
<line x1="116.3" y1="281.5" x2="116.3" y2="286.5" stroke="#000" stroke-width="1.0"/>
<line x1="136.6" y1="492.8" x2="136.6" y2="490.3" stroke="#000" stroke-width="1.0"/>
<line x1="136.6" y1="281.5" x2="136.6" y2="284.0" stroke="#000" stroke-width="1.0"/>
<line x1="148.5" y1="492.8" x2="148.5" y2="490.3" stroke="#000" stroke-width="1.0"/>
<line x1="148.5" y1="281.5" x2="148.5" y2="284.0" stroke="#000" stroke-width="1.0"/>
<line x1="156.9" y1="492.8" x2="156.9" y2="490.3" stroke="#000" stroke-width="1.0"/>
<line x1="156.9" y1="281.5" x2="156.9" y2="284.0" stroke="#000" stroke-width="1.0"/>
<line x1="163.4" y1="492.8" x2="163.4" y2="490.3" stroke="#000" stroke-width="1.0"/>
<line x1="163.4" y1="281.5" x2="163.4" y2="284.0" stroke="#000" stroke-width="1.0"/>
<line x1="168.7" y1="492.8" x2="168.7" y2="490.3" stroke="#000" stroke-width="1.0"/>
<line x1="168.7" y1="281.5" x2="168.7" y2="284.0" stroke="#000" stroke-width="1.0"/>
<line x1="173.3" y1="492.8" x2="173.3" y2="490.3" stroke="#000" stroke-width="1.0"/>
<line x1="173.3" y1="281.5" x2="173.3" y2="284.0" stroke="#000" stroke-width="1.0"/>
<line x1="177.2" y1="492.8" x2="177.2" y2="490.3" stroke="#000" stroke-width="1.0"/>
<line x1="177.2" y1="281.5" x2="177.2" y2="284.0" stroke="#000" stroke-width="1.0"/>
<line x1="180.6" y1="492.8" x2="180.6" y2="490.3" stroke="#000" stroke-width="1.0"/>
<line x1="180.6" y1="281.5" x2="180.6" y2="284.0" stroke="#000" stroke-width="1.0"/>
<line x1="183.7" y1="492.8" x2="183.7" y2="487.8" stroke="#000" stroke-width="1.0"/>
<line x1="183.7" y1="281.5" x2="183.7" y2="286.5" stroke="#000" stroke-width="1.0"/>
<line x1="204.0" y1="492.8" x2="204.0" y2="490.3" stroke="#000" stroke-width="1.0"/>
<line x1="204.0" y1="281.5" x2="204.0" y2="284.0" stroke="#000" stroke-width="1.0"/>
<line x1="215.9" y1="492.8" x2="215.9" y2="490.3" stroke="#000" stroke-width="1.0"/>
<line x1="215.9" y1="281.5" x2="215.9" y2="284.0" stroke="#000" stroke-width="1.0"/>
<line x1="224.3" y1="492.8" x2="224.3" y2="490.3" stroke="#000" stroke-width="1.0"/>
<line x1="224.3" y1="281.5" x2="224.3" y2="284.0" stroke="#000" stroke-width="1.0"/>
<line x1="230.8" y1="492.8" x2="230.8" y2="490.3" stroke="#000" stroke-width="1.0"/>
<line x1="230.8" y1="281.5" x2="230.8" y2="284.0" stroke="#000" stroke-width="1.0"/>
<line x1="236.1" y1="492.8" x2="236.1" y2="490.3" stroke="#000" stroke-width="1.0"/>
<line x1="236.1" y1="281.5" x2="236.1" y2="284.0" stroke="#000" stroke-width="1.0"/>
<line x1="240.7" y1="492.8" x2="240.7" y2="490.3" stroke="#000" stroke-width="1.0"/>
<line x1="240.7" y1="281.5" x2="240.7" y2="284.0" stroke="#000" stroke-width="1.0"/>
<line x1="244.6" y1="492.8" x2="244.6" y2="490.3" stroke="#000" stroke-width="1.0"/>
<line x1="244.6" y1="281.5" x2="244.6" y2="284.0" stroke="#000" stroke-width="1.0"/>
<line x1="248.0" y1="492.8" x2="248.0" y2="490.3" stroke="#000" stroke-width="1.0"/>
<line x1="248.0" y1="281.5" x2="248.0" y2="284.0" stroke="#000" stroke-width="1.0"/>
<line x1="251.1" y1="492.8" x2="251.1" y2="487.8" stroke="#000" stroke-width="1.0"/>
<line x1="251.1" y1="281.5" x2="251.1" y2="286.5" stroke="#000" stroke-width="1.0"/>
<line x1="271.4" y1="492.8" x2="271.4" y2="490.3" stroke="#000" stroke-width="1.0"/>
<line x1="271.4" y1="281.5" x2="271.4" y2="284.0" stroke="#000" stroke-width="1.0"/>
<line x1="283.3" y1="492.8" x2="283.3" y2="490.3" stroke="#000" stroke-width="1.0"/>
<line x1="283.3" y1="281.5" x2="283.3" y2="284.0" stroke="#000" stroke-width="1.0"/>
<line x1="291.7" y1="492.8" x2="291.7" y2="490.3" stroke="#000" stroke-width="1.0"/>
<line x1="291.7" y1="281.5" x2="291.7" y2="284.0" stroke="#000" stroke-width="1.0"/>
<line x1="298.2" y1="492.8" x2="298.2" y2="490.3" stroke="#000" stroke-width="1.0"/>
<line x1="298.2" y1="281.5" x2="298.2" y2="284.0" stroke="#000" stroke-width="1.0"/>
<line x1="303.5" y1="492.8" x2="303.5" y2="490.3" stroke="#000" stroke-width="1.0"/>
<line x1="303.5" y1="281.5" x2="303.5" y2="284.0" stroke="#000" stroke-width="1.0"/>
<line x1="308.1" y1="492.8" x2="308.1" y2="490.3" stroke="#000" stroke-width="1.0"/>
<line x1="308.1" y1="281.5" x2="308.1" y2="284.0" stroke="#000" stroke-width="1.0"/>
<line x1="312.0" y1="492.8" x2="312.0" y2="490.3" stroke="#000" stroke-width="1.0"/>
<line x1="312.0" y1="281.5" x2="312.0" y2="284.0" stroke="#000" stroke-width="1.0"/>
<line x1="315.4" y1="492.8" x2="315.4" y2="490.3" stroke="#000" stroke-width="1.0"/>
<line x1="315.4" y1="281.5" x2="315.4" y2="284.0" stroke="#000" stroke-width="1.0"/>
<line x1="318.5" y1="492.8" x2="318.5" y2="487.8" stroke="#000" stroke-width="1.0"/>
<line x1="318.5" y1="281.5" x2="318.5" y2="286.5" stroke="#000" stroke-width="1.0"/>
<text x="50.9" y="509.0" text-anchor="middle" font-size="13.0" >10<tspan dy="-6.5" font-size="10.0">−4</tspan></text>
<text x="118.3" y="509.0" text-anchor="middle" font-size="13.0" >10<tspan dy="-6.5" font-size="10.0">−3</tspan></text>
<text x="183.7" y="509.0" text-anchor="middle" font-size="13.0" >0.01</text>
<text x="251.1" y="509.0" text-anchor="middle" font-size="13.0" >0.1</text>
<text x="318.5" y="509.0" text-anchor="middle" font-size="13.0" >1</text>
<text x="185.6" y="534.0" text-anchor="middle" font-size="13.0" >q</text>
<line x1="36.4" y1="490.2" x2="41.9" y2="490.2" stroke="#000" stroke-width="1.0"/>
<line x1="331.2" y1="490.2" x2="325.7" y2="490.2" stroke="#000" stroke-width="1.0"/>
<line x1="36.4" y1="456.6" x2="39.0" y2="456.6" stroke="#000" stroke-width="1.0"/>
<line x1="331.2" y1="456.6" x2="328.6" y2="456.6" stroke="#000" stroke-width="1.0"/>
<line x1="36.4" y1="422.9" x2="41.9" y2="422.9" stroke="#000" stroke-width="1.0"/>
<line x1="331.2" y1="422.9" x2="325.7" y2="422.9" stroke="#000" stroke-width="1.0"/>
<line x1="36.4" y1="389.2" x2="39.0" y2="389.2" stroke="#000" stroke-width="1.0"/>
<line x1="331.2" y1="389.2" x2="328.6" y2="389.2" stroke="#000" stroke-width="1.0"/>
<line x1="36.4" y1="355.6" x2="41.9" y2="355.6" stroke="#000" stroke-width="1.0"/>
<line x1="331.2" y1="355.6" x2="325.7" y2="355.6" stroke="#000" stroke-width="1.0"/>
<line x1="36.4" y1="321.9" x2="39.0" y2="321.9" stroke="#000" stroke-width="1.0"/>
<line x1="331.2" y1="321.9" x2="328.6" y2="321.9" stroke="#000" stroke-width="1.0"/>
<line x1="36.4" y1="288.3" x2="41.9" y2="288.3" stroke="#000" stroke-width="1.0"/>
<line x1="331.2" y1="288.3" x2="325.7" y2="288.3" stroke="#000" stroke-width="1.0"/>
<text transform="translate(28.8,490.2) rotate(-90)" text-anchor="middle" font-size="13.0" >0</text>
<text transform="translate(28.8,422.9) rotate(-90)" text-anchor="middle" font-size="13.0" >2</text>
<text transform="translate(28.8,355.6) rotate(-90)" text-anchor="middle" font-size="13.0" >4</text>
<text transform="translate(28.8,288.3) rotate(-90)" text-anchor="middle" font-size="13.0" >6</text>
<text transform="translate(9.8,387.6) rotate(-90)" text-anchor="middle" font-size="14.5" font-style="italic">θ</text>
<rect x="331.2" y="281.3" width="21.7" height="211.6" fill="url(#cb)" stroke="#000" stroke-width="1.2"/>
<line x1="331.2" y1="284.9" x2="333.8" y2="284.9" stroke="#000" stroke-width="0.8"/>
<line x1="352.9" y1="284.9" x2="350.3" y2="284.9" stroke="#000" stroke-width="0.8"/>
<line x1="331.2" y1="296.0" x2="333.8" y2="296.0" stroke="#000" stroke-width="0.8"/>
<line x1="352.9" y1="296.0" x2="350.3" y2="296.0" stroke="#000" stroke-width="0.8"/>
<line x1="331.2" y1="307.1" x2="333.8" y2="307.1" stroke="#000" stroke-width="0.8"/>
<line x1="352.9" y1="307.1" x2="350.3" y2="307.1" stroke="#000" stroke-width="0.8"/>
<line x1="331.2" y1="318.2" x2="333.8" y2="318.2" stroke="#000" stroke-width="0.8"/>
<line x1="352.9" y1="318.2" x2="350.3" y2="318.2" stroke="#000" stroke-width="0.8"/>
<line x1="331.2" y1="329.3" x2="333.8" y2="329.3" stroke="#000" stroke-width="0.8"/>
<line x1="352.9" y1="329.3" x2="350.3" y2="329.3" stroke="#000" stroke-width="0.8"/>
<line x1="331.2" y1="340.4" x2="333.8" y2="340.4" stroke="#000" stroke-width="0.8"/>
<line x1="352.9" y1="340.4" x2="350.3" y2="340.4" stroke="#000" stroke-width="0.8"/>
<line x1="331.2" y1="351.5" x2="333.8" y2="351.5" stroke="#000" stroke-width="0.8"/>
<line x1="352.9" y1="351.5" x2="350.3" y2="351.5" stroke="#000" stroke-width="0.8"/>
<line x1="331.2" y1="362.6" x2="333.8" y2="362.6" stroke="#000" stroke-width="0.8"/>
<line x1="352.9" y1="362.6" x2="350.3" y2="362.6" stroke="#000" stroke-width="0.8"/>
<line x1="331.2" y1="373.7" x2="333.8" y2="373.7" stroke="#000" stroke-width="0.8"/>
<line x1="352.9" y1="373.7" x2="350.3" y2="373.7" stroke="#000" stroke-width="0.8"/>
<line x1="331.2" y1="384.8" x2="333.8" y2="384.8" stroke="#000" stroke-width="0.8"/>
<line x1="352.9" y1="384.8" x2="350.3" y2="384.8" stroke="#000" stroke-width="0.8"/>
<line x1="331.2" y1="395.9" x2="333.8" y2="395.9" stroke="#000" stroke-width="0.8"/>
<line x1="352.9" y1="395.9" x2="350.3" y2="395.9" stroke="#000" stroke-width="0.8"/>
<line x1="331.2" y1="407.0" x2="333.8" y2="407.0" stroke="#000" stroke-width="0.8"/>
<line x1="352.9" y1="407.0" x2="350.3" y2="407.0" stroke="#000" stroke-width="0.8"/>
<line x1="331.2" y1="418.1" x2="333.8" y2="418.1" stroke="#000" stroke-width="0.8"/>
<line x1="352.9" y1="418.1" x2="350.3" y2="418.1" stroke="#000" stroke-width="0.8"/>
<line x1="331.2" y1="429.2" x2="333.8" y2="429.2" stroke="#000" stroke-width="0.8"/>
<line x1="352.9" y1="429.2" x2="350.3" y2="429.2" stroke="#000" stroke-width="0.8"/>
<line x1="331.2" y1="440.3" x2="333.8" y2="440.3" stroke="#000" stroke-width="0.8"/>
<line x1="352.9" y1="440.3" x2="350.3" y2="440.3" stroke="#000" stroke-width="0.8"/>
<line x1="331.2" y1="451.4" x2="333.8" y2="451.4" stroke="#000" stroke-width="0.8"/>
<line x1="352.9" y1="451.4" x2="350.3" y2="451.4" stroke="#000" stroke-width="0.8"/>
<line x1="331.2" y1="462.5" x2="333.8" y2="462.5" stroke="#000" stroke-width="0.8"/>
<line x1="352.9" y1="462.5" x2="350.3" y2="462.5" stroke="#000" stroke-width="0.8"/>
<line x1="331.2" y1="473.6" x2="333.8" y2="473.6" stroke="#000" stroke-width="0.8"/>
<line x1="352.9" y1="473.6" x2="350.3" y2="473.6" stroke="#000" stroke-width="0.8"/>
<line x1="331.2" y1="484.7" x2="333.8" y2="484.7" stroke="#000" stroke-width="0.8"/>
<line x1="352.9" y1="484.7" x2="350.3" y2="484.7" stroke="#000" stroke-width="0.8"/>
<text transform="translate(363.5,295.8) rotate(-90)" text-anchor="middle" font-size="10.4" >2×10<tspan dy="-4.5" font-size="6.5">5</tspan></text>
<text transform="translate(363.5,350.7) rotate(-90)" text-anchor="middle" font-size="10.4" >1.5×10<tspan dy="-4.5" font-size="6.5">5</tspan></text>
<text transform="translate(363.5,406.7) rotate(-90)" text-anchor="middle" font-size="10.4" >10<tspan dy="-4.5" font-size="6.5">5</tspan></text>
<text transform="translate(363.5,462.7) rotate(-90)" text-anchor="middle" font-size="10.4" >6×10<tspan dy="-4.5" font-size="6.5">4</tspan></text>
<text transform="translate(374.7,291.8) rotate(-90)" text-anchor="middle" font-size="10.0" >χ<tspan dy="-4.5" font-size="6.5">2</tspan></text>
<circle cx="309.7" cy="309.1" r="4.8" fill="#000"/>
</svg></body></html>
